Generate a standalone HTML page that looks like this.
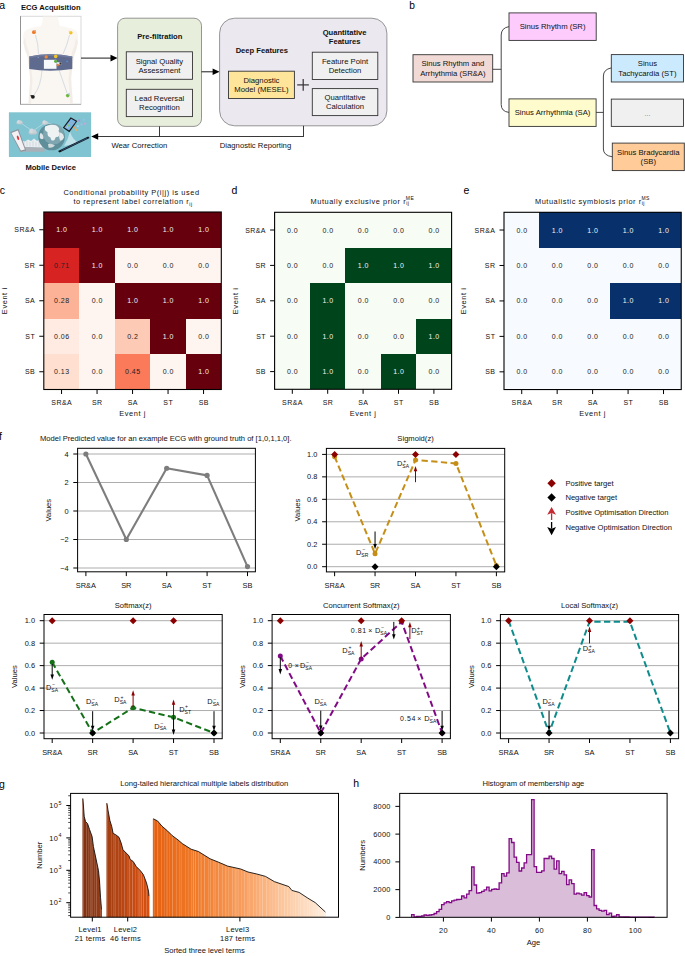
<!DOCTYPE html>
<html><head><meta charset="utf-8"><title>Figure</title>
<style>
html,body{margin:0;padding:0;background:#fff;}
body{width:685px;height:956px;overflow:hidden;position:relative;}
svg{position:absolute;left:0;top:0;font-family:"Liberation Sans", sans-serif;}
text{stroke-width:0;}
text:not([stroke]){stroke:#111;}
</style></head><body>
<svg width="685" height="956" viewBox="0 0 685 956">
<text x="-0.80" y="8.80" font-size="10.5" text-anchor="start" fill="#000" stroke="#000" stroke-width="0">a</text>
<text x="20.90" y="10.10" font-size="7.6" text-anchor="start" fill="#111" stroke="#111" font-weight="bold">ECG Acquisition</text>
<rect x="20.40" y="16.20" width="60.60" height="88.30" fill="#fff" stroke="#c8c8c8" stroke-width="0.7"/>
<line x1="20.50" y1="16.20" x2="20.50" y2="104.50" stroke="#8a8a8a" stroke-width="0.9"/>
<line x1="20.40" y1="104.30" x2="81.00" y2="104.30" stroke="#9a9a9a" stroke-width="0.7"/>
<path d="M43,16.6 L58,16.6 Q58.5,24 60,26 Q70,27.5 76,30.5 Q78.5,33 78,42 Q76.5,50 74,56 L72,70 Q70.5,78 71.5,86 Q72.5,96 72.8,104 L28.5,104 Q28.8,96 29.8,86 Q30.8,78 29.3,70 L27.5,56 Q24.5,50 23.3,42 Q22.8,33 25.3,30.5 Q31,27.5 41,26 Q42.5,24 43,16.6 Z" fill="#faf6f1" stroke="none" stroke-width="1"/>
<path d="M23.3,42 Q24.5,50 27.5,56 L29.3,70 Q30.8,78 29.8,86 Q28.8,96 28.5,104 L31,104 Q31.5,90 32.5,80 Q31,66 29,52 Q26,46 25,38 Z" fill="#f3ede7" stroke="none" stroke-width="1"/>
<path d="M78,42 Q76.5,50 74,56 L72,70 Q70.5,78 71.5,86 Q72.5,96 72.8,104 L70,104 Q69.5,90 68.5,80 Q70,66 72,52 Q75,46 76,38 Z" fill="#f3ede7" stroke="none" stroke-width="1"/>
<path d="M35.5,35 Q38.5,45 38.5,54 M69.5,35 Q67,46 63,54 M42,70 Q41,86 34,95 M59,70 Q64,84 67,93" fill="none" stroke="#a8bccf" stroke-width="0.45"/>
<path d="M29.2,56.5 Q50,52 72.3,56.5 L72.3,69 Q50,72.5 29.2,69 Z" fill="#5e6a8e" stroke="none" stroke-width="1"/>
<path d="M29.2,56.5 Q50,52 72.3,56.5 L72.3,58 Q50,54 29.2,58 Z" fill="#6f7ca0" stroke="none" stroke-width="1"/>
<rect x="43.90" y="59.80" width="12.60" height="9.00" fill="#f7f8fb" stroke="none" stroke-width="1"/>
<rect x="56.50" y="62.20" width="5.00" height="2.60" fill="#e8e8ee" stroke="none" stroke-width="1"/>
<rect x="59.50" y="62.40" width="2.00" height="2.20" fill="#333" stroke="none" stroke-width="1"/>
<circle cx="33.9" cy="32.2" r="1.9" fill="#ee7a2a" stroke="none" stroke-width="0.5"/>
<circle cx="35.2" cy="31.0" r="0.9" fill="#f0a080" stroke="none" stroke-width="0.5"/>
<circle cx="70.8" cy="32.8" r="1.8" fill="#f4c020" stroke="none" stroke-width="0.5"/>
<circle cx="69.6" cy="31.4" r="1.0" fill="#f5e09a" stroke="none" stroke-width="0.5"/>
<circle cx="46.2" cy="56.9" r="1.7" fill="#ef8a35" stroke="none" stroke-width="0.5"/>
<circle cx="55.7" cy="56.4" r="1.8" fill="#f1c22a" stroke="none" stroke-width="0.5"/>
<circle cx="55.6" cy="61.3" r="1.6" fill="#5cb040" stroke="none" stroke-width="0.5"/>
<circle cx="57.7" cy="65.0" r="1.2" fill="#e67a30" stroke="none" stroke-width="0.5"/>
<circle cx="67.1" cy="61.4" r="0.9" fill="#4a90e0" stroke="none" stroke-width="0.5"/>
<circle cx="38.2" cy="57.4" r="0.5" fill="#9cb8e0" stroke="none" stroke-width="0.5"/>
<circle cx="32.9" cy="96.8" r="1.9" fill="#1a1a1a" stroke="none" stroke-width="0.5"/>
<circle cx="31.2" cy="95.8" r="0.8" fill="#222" stroke="none" stroke-width="0.5"/>
<circle cx="67.7" cy="95.6" r="1.8" fill="#72b83e" stroke="none" stroke-width="0.5"/>
<circle cx="69.0" cy="94.0" r="0.9" fill="#a8c8e8" stroke="none" stroke-width="0.5"/>
<rect x="8.90" y="112.30" width="82.20" height="44.70" fill="#80c3d1" stroke="none" stroke-width="1"/>
<path d="M19.5,122 L32.5,131 M33,131 L45,122.5 M45,122.5 L52,124" fill="none" stroke="#dfeef2" stroke-width="0.45"/>
<ellipse cx="19.6" cy="122.8" rx="3.3" ry="1.7" fill="#bfc9cf"/>
<circle cx="18.700000000000003" cy="121.7" r="1.8" fill="#d3dbe0"/>
<circle cx="20.700000000000003" cy="122.0" r="1.4" fill="#c9d2d8"/>
<ellipse cx="32.8" cy="132.38" rx="4.29" ry="2.21" fill="#bfc9cf"/>
<circle cx="31.629999999999995" cy="130.95" r="2.3400000000000003" fill="#d3dbe0"/>
<circle cx="34.23" cy="131.34" r="1.8199999999999998" fill="#c9d2d8"/>
<ellipse cx="45.2" cy="123.19999999999999" rx="3.3" ry="1.7" fill="#bfc9cf"/>
<circle cx="44.300000000000004" cy="122.1" r="1.8" fill="#d3dbe0"/>
<circle cx="46.300000000000004" cy="122.39999999999999" r="1.4" fill="#c9d2d8"/>
<path d="M19.5,151.8 L44.5,151.8 L44.5,147.5 L22,146.5 Z" fill="#a9b0b7" stroke="none" stroke-width="1"/>
<path d="M22,146.8 L44.5,147.6 L44.5,140.5 L40,139 L37,141 L34,138.5 L31,141 L28,139.5 L25,141.5 L21,141 Z" fill="#e9eef1" stroke="none" stroke-width="1"/>
<path d="M24,146 L24,142 M27,146 L27,141 M30,146.5 L30,142 M33,146.5 L33,140.5 M36,146.5 L36,142 M39,146.8 L39,141" fill="none" stroke="#c2cbd2" stroke-width="0.6"/>
<path d="M10.2,132.2 L18.3,129.0 L26.2,150.6 L20.6,151.8 Z" fill="#8d9299" stroke="none" stroke-width="1"/>
<path d="M11.4,132.9 L17.8,130.4 L24.9,149.6 L20.9,150.4 Z" fill="#f3f1f3" stroke="none" stroke-width="1"/>
<ellipse cx="18.0" cy="137.8" rx="1.0" ry="2.3" fill="#e0383c" transform="rotate(-20 18 137.8)"/>
<circle cx="51.6" cy="137.0" r="13.3" fill="#5e8e9a"/>
<circle cx="53.5" cy="134.0" r="10.5" fill="#7ea6b0"/>
<path d="M45,126.5 Q50,123.8 56,125.2 Q60.5,128 58.5,131 Q61,134 58,137 Q55.5,136 54.5,140 Q51,142 50.5,137.5 Q47,136.5 47.5,132 Q44,131 45,126.5 Z" fill="#eef2f3" stroke="none" stroke-width="1"/>
<path d="M59.5,132.5 Q63.5,133 64,137.5 Q62.5,141 60,140.5 Q58.5,137 59.5,132.5 Z" fill="#e4eaec" stroke="none" stroke-width="1"/>
<path d="M40.5,133 Q43.5,133.5 43.5,138.5 Q41.5,140 39.8,138 Q39.2,135 40.5,133 Z" fill="#dfe6e9" stroke="none" stroke-width="1"/>
<path d="M48,144 Q52,143 55,145.5 Q52,148.5 48.5,147.5 Z" fill="#d0dadd" stroke="none" stroke-width="1"/>
<path d="M64,146 Q68,140 70,131.5 Q72,139 79,143.5 Q72,144 64,146 Z" fill="#bfe1ea" stroke="none" stroke-width="1"/>
<path d="M62.8,127.7 L70.7,117.2 L77.3,121.1 L69.4,132.3 Z" fill="#18181c" stroke="none" stroke-width="1"/>
<path d="M64.4,127.4 L71.1,118.7 L75.8,121.5 L69.1,130.6 Z" fill="#7cb4e4" stroke="none" stroke-width="1"/>
<circle cx="69.0" cy="125.6" r="1.1" fill="#8ccf5a" stroke="none" stroke-width="0.5"/>
<circle cx="71.6" cy="123.0" r="0.8" fill="#f0a040" stroke="none" stroke-width="0.5"/>
<circle cx="67.4" cy="127.0" r="0.7" fill="#f4d040" stroke="none" stroke-width="0.5"/>
<rect x="78.30" y="119.60" width="1.80" height="1.80" fill="#c080e0" stroke="none" stroke-width="1"/>
<rect x="82.90" y="118.90" width="1.80" height="1.80" fill="#8fc4f0" stroke="none" stroke-width="1"/>
<rect x="84.30" y="122.70" width="1.80" height="1.80" fill="#e59ad8" stroke="none" stroke-width="1"/>
<rect x="73.90" y="126.70" width="1.80" height="1.80" fill="#f0a050" stroke="none" stroke-width="1"/>
<rect x="77.10" y="125.30" width="1.80" height="1.80" fill="#a6d2f2" stroke="none" stroke-width="1"/>
<rect x="80.60" y="123.60" width="1.80" height="1.80" fill="#b4b4f0" stroke="none" stroke-width="1"/>
<rect x="75.30" y="128.90" width="1.80" height="1.80" fill="#f2b060" stroke="none" stroke-width="1"/>
<path d="M58.0,151.0 L88.2,136.4 L89.6,138.0 L59.6,152.6 Z" fill="#14161b" stroke="none" stroke-width="1"/>
<path d="M61.0,150.2 L86.6,137.9 L87.2,138.5 L61.6,150.8 Z" fill="#2f5a88" stroke="none" stroke-width="1"/>
<line x1="81.00" y1="58.10" x2="112.00" y2="58.10" stroke="#000" stroke-width="0.9"/>
<path d="M117.5,58.1 L110.5,54.800000000000004 L110.5,61.4 Z" fill="#000" stroke="none" stroke-width="1"/>
<rect x="117.60" y="18.20" width="83.90" height="108.20" fill="#e8eedc" stroke="#7c7c7c" stroke-width="0.8" rx="7.5"/>
<text x="159.80" y="38.80" font-size="7.6" text-anchor="middle" fill="#111" stroke="#111" font-weight="bold">Pre-filtration</text>
<rect x="126.30" y="51.80" width="66.20" height="27.50" fill="#f0f0f0" stroke="#333" stroke-width="0.9"/>
<text x="159.40" y="63.60" font-size="7.7" text-anchor="middle" fill="#111" stroke="#111">Signal Quality</text>
<text x="159.40" y="72.80" font-size="7.7" text-anchor="middle" fill="#111" stroke="#111">Assessment</text>
<rect x="126.30" y="89.30" width="66.20" height="27.30" fill="#f0f0f0" stroke="#333" stroke-width="0.9"/>
<text x="159.40" y="100.90" font-size="7.7" text-anchor="middle" fill="#111" stroke="#111">Lead Reversal</text>
<text x="159.40" y="110.10" font-size="7.7" text-anchor="middle" fill="#111" stroke="#111">Recognition</text>
<line x1="201.50" y1="71.80" x2="214.00" y2="71.80" stroke="#000" stroke-width="0.9"/>
<path d="M219.6,71.8 L212.6,68.5 L212.6,75.1 Z" fill="#000" stroke="none" stroke-width="1"/>
<rect x="219.60" y="18.20" width="167.30" height="107.60" fill="#ebe8f0" stroke="#7c7c7c" stroke-width="0.8" rx="15"/>
<text x="261.80" y="52.50" font-size="7.6" text-anchor="middle" fill="#111" stroke="#111" font-weight="bold">Deep Features</text>
<rect x="228.50" y="71.20" width="65.90" height="27.30" fill="#fee599" stroke="#333" stroke-width="0.9"/>
<text x="261.50" y="82.80" font-size="7.7" text-anchor="middle" fill="#111" stroke="#111">Diagnostic</text>
<text x="261.50" y="92.10" font-size="7.7" text-anchor="middle" fill="#111" stroke="#111">Model (MESEL)</text>
<line x1="297.20" y1="84.90" x2="308.90" y2="84.90" stroke="#333" stroke-width="1.2"/>
<line x1="303.20" y1="79.10" x2="303.20" y2="90.80" stroke="#333" stroke-width="1.2"/>
<text x="344.60" y="34.80" font-size="7.6" text-anchor="middle" fill="#111" stroke="#111" font-weight="bold">Quantitative</text>
<text x="344.60" y="44.00" font-size="7.6" text-anchor="middle" fill="#111" stroke="#111" font-weight="bold">Features</text>
<rect x="312.30" y="52.20" width="65.50" height="27.30" fill="#f0f0f0" stroke="#333" stroke-width="0.9"/>
<text x="345.00" y="64.00" font-size="7.7" text-anchor="middle" fill="#111" stroke="#111">Feature Point</text>
<text x="345.00" y="73.20" font-size="7.7" text-anchor="middle" fill="#111" stroke="#111">Detection</text>
<rect x="312.30" y="88.60" width="65.50" height="27.00" fill="#f0f0f0" stroke="#333" stroke-width="0.9"/>
<text x="345.00" y="99.90" font-size="7.7" text-anchor="middle" fill="#111" stroke="#111">Quantitative</text>
<text x="345.00" y="109.30" font-size="7.7" text-anchor="middle" fill="#111" stroke="#111">Calculation</text>
<line x1="159.50" y1="126.40" x2="159.50" y2="136.50" stroke="#222" stroke-width="0.9"/>
<line x1="303.50" y1="125.80" x2="303.50" y2="136.50" stroke="#222" stroke-width="0.9"/>
<line x1="98.00" y1="136.50" x2="303.90" y2="136.50" stroke="#222" stroke-width="0.9"/>
<path d="M91.2,136.5 L98.2,133.2 L98.2,139.8 Z" fill="#000" stroke="none" stroke-width="1"/>
<text x="139.30" y="147.80" font-size="7.7" text-anchor="middle" fill="#111" stroke="#111">Wear Correction</text>
<text x="255.50" y="147.80" font-size="7.7" text-anchor="middle" fill="#111" stroke="#111">Diagnostic Reporting</text>
<text x="25.40" y="169.70" font-size="7.6" text-anchor="start" fill="#111" stroke="#111" font-weight="bold">Mobile Device</text>
<text x="409.30" y="9.10" font-size="10.2" text-anchor="start" fill="#000" stroke="#000" stroke-width="0">b</text>
<rect x="413.00" y="54.70" width="79.70" height="27.30" fill="#f1d9d6" stroke="#333" stroke-width="0.9"/>
<text x="452.85" y="66.40" font-size="7.7" text-anchor="middle" fill="#111" stroke="#111">Sinus Rhythm and</text>
<text x="452.85" y="75.50" font-size="7.7" text-anchor="middle" fill="#111" stroke="#111">Arrhythmia (SR&amp;A)</text>
<rect x="509.00" y="12.90" width="87.20" height="27.50" fill="#fecbfd" stroke="#333" stroke-width="0.9"/>
<text x="552.60" y="29.40" font-size="7.7" text-anchor="middle" fill="#111" stroke="#111">Sinus Rhythm (SR)</text>
<rect x="509.00" y="98.90" width="87.10" height="27.50" fill="#fefccc" stroke="#333" stroke-width="0.9"/>
<text x="552.55" y="115.20" font-size="7.7" text-anchor="middle" fill="#111" stroke="#111">Sinus Arrhythmia (SA)</text>
<rect x="611.30" y="54.60" width="72.20" height="27.40" fill="#cceafd" stroke="#333" stroke-width="0.9"/>
<text x="647.40" y="66.40" font-size="7.7" text-anchor="middle" fill="#111" stroke="#111">Sinus</text>
<text x="647.40" y="75.60" font-size="7.7" text-anchor="middle" fill="#111" stroke="#111">Tachycardia (ST)</text>
<rect x="611.30" y="99.10" width="72.20" height="27.30" fill="#f0f0f0" stroke="#333" stroke-width="0.9"/>
<text x="647.50" y="116.00" font-size="7" text-anchor="middle" fill="#777" stroke="#777">...</text>
<rect x="612.30" y="143.10" width="72.00" height="27.50" fill="#fecb99" stroke="#333" stroke-width="0.9"/>
<text x="648.30" y="155.00" font-size="7.7" text-anchor="middle" fill="#111" stroke="#111">Sinus Bradycardia</text>
<text x="648.30" y="164.20" font-size="7.7" text-anchor="middle" fill="#111" stroke="#111">(SB)</text>
<path d="M492.7,69.3 L501.2,69.3" fill="none" stroke="#333" stroke-width="0.9"/>
<path d="M509,26.6 Q501.2,28 501.2,35 L501.2,104.5 Q501.2,111.5 509,112.4" fill="none" stroke="#333" stroke-width="0.9"/>
<path d="M596.1,112.4 L603.4,112.4" fill="none" stroke="#333" stroke-width="0.9"/>
<path d="M611.3,67.9 Q603.4,69.5 603.4,76 L603.4,149 Q603.4,155.5 612.3,156.8" fill="none" stroke="#333" stroke-width="0.9"/>
<rect x="43.80" y="212.00" width="35.50" height="35.50" fill="#67000d" stroke="none" stroke-width="1" shape-rendering="crispEdges"/>
<rect x="79.30" y="212.00" width="35.50" height="35.50" fill="#67000d" stroke="none" stroke-width="1" shape-rendering="crispEdges"/>
<rect x="114.80" y="212.00" width="35.50" height="35.50" fill="#67000d" stroke="none" stroke-width="1" shape-rendering="crispEdges"/>
<rect x="150.30" y="212.00" width="35.50" height="35.50" fill="#67000d" stroke="none" stroke-width="1" shape-rendering="crispEdges"/>
<rect x="185.80" y="212.00" width="35.50" height="35.50" fill="#67000d" stroke="none" stroke-width="1" shape-rendering="crispEdges"/>
<rect x="43.80" y="247.50" width="35.50" height="35.50" fill="#d72322" stroke="none" stroke-width="1" shape-rendering="crispEdges"/>
<rect x="79.30" y="247.50" width="35.50" height="35.50" fill="#67000d" stroke="none" stroke-width="1" shape-rendering="crispEdges"/>
<rect x="114.80" y="247.50" width="35.50" height="35.50" fill="#fff5f0" stroke="none" stroke-width="1" shape-rendering="crispEdges"/>
<rect x="150.30" y="247.50" width="35.50" height="35.50" fill="#fff5f0" stroke="none" stroke-width="1" shape-rendering="crispEdges"/>
<rect x="185.80" y="247.50" width="35.50" height="35.50" fill="#fff5f0" stroke="none" stroke-width="1" shape-rendering="crispEdges"/>
<rect x="43.80" y="283.00" width="35.50" height="35.50" fill="#fcb296" stroke="none" stroke-width="1" shape-rendering="crispEdges"/>
<rect x="79.30" y="283.00" width="35.50" height="35.50" fill="#fff5f0" stroke="none" stroke-width="1" shape-rendering="crispEdges"/>
<rect x="114.80" y="283.00" width="35.50" height="35.50" fill="#67000d" stroke="none" stroke-width="1" shape-rendering="crispEdges"/>
<rect x="150.30" y="283.00" width="35.50" height="35.50" fill="#67000d" stroke="none" stroke-width="1" shape-rendering="crispEdges"/>
<rect x="185.80" y="283.00" width="35.50" height="35.50" fill="#67000d" stroke="none" stroke-width="1" shape-rendering="crispEdges"/>
<rect x="43.80" y="318.50" width="35.50" height="35.50" fill="#ffebe2" stroke="none" stroke-width="1" shape-rendering="crispEdges"/>
<rect x="79.30" y="318.50" width="35.50" height="35.50" fill="#fff5f0" stroke="none" stroke-width="1" shape-rendering="crispEdges"/>
<rect x="114.80" y="318.50" width="35.50" height="35.50" fill="#fdcab5" stroke="none" stroke-width="1" shape-rendering="crispEdges"/>
<rect x="150.30" y="318.50" width="35.50" height="35.50" fill="#67000d" stroke="none" stroke-width="1" shape-rendering="crispEdges"/>
<rect x="185.80" y="318.50" width="35.50" height="35.50" fill="#fff5f0" stroke="none" stroke-width="1" shape-rendering="crispEdges"/>
<rect x="43.80" y="354.00" width="35.50" height="35.50" fill="#fedfd0" stroke="none" stroke-width="1" shape-rendering="crispEdges"/>
<rect x="79.30" y="354.00" width="35.50" height="35.50" fill="#fff5f0" stroke="none" stroke-width="1" shape-rendering="crispEdges"/>
<rect x="114.80" y="354.00" width="35.50" height="35.50" fill="#fb7a5a" stroke="none" stroke-width="1" shape-rendering="crispEdges"/>
<rect x="150.30" y="354.00" width="35.50" height="35.50" fill="#fff5f0" stroke="none" stroke-width="1" shape-rendering="crispEdges"/>
<rect x="185.80" y="354.00" width="35.50" height="35.50" fill="#67000d" stroke="none" stroke-width="1" shape-rendering="crispEdges"/>
<text x="61.80" y="232.30" font-size="7" text-anchor="middle" fill="#f2f2f2" stroke="#f2f2f2" letter-spacing="0.45">1.0</text>
<text x="97.30" y="232.30" font-size="7" text-anchor="middle" fill="#f2f2f2" stroke="#f2f2f2" letter-spacing="0.45">1.0</text>
<text x="132.80" y="232.30" font-size="7" text-anchor="middle" fill="#f2f2f2" stroke="#f2f2f2" letter-spacing="0.45">1.0</text>
<text x="168.30" y="232.30" font-size="7" text-anchor="middle" fill="#f2f2f2" stroke="#f2f2f2" letter-spacing="0.45">1.0</text>
<text x="203.80" y="232.30" font-size="7" text-anchor="middle" fill="#f2f2f2" stroke="#f2f2f2" letter-spacing="0.45">1.0</text>
<text x="61.80" y="267.80" font-size="7" text-anchor="middle" fill="#222" stroke="#222" letter-spacing="0.45">0.71</text>
<text x="97.30" y="267.80" font-size="7" text-anchor="middle" fill="#f2f2f2" stroke="#f2f2f2" letter-spacing="0.45">1.0</text>
<text x="132.80" y="267.80" font-size="7" text-anchor="middle" fill="#222" stroke="#222" letter-spacing="0.45">0.0</text>
<text x="168.30" y="267.80" font-size="7" text-anchor="middle" fill="#222" stroke="#222" letter-spacing="0.45">0.0</text>
<text x="203.80" y="267.80" font-size="7" text-anchor="middle" fill="#222" stroke="#222" letter-spacing="0.45">0.0</text>
<text x="61.80" y="303.30" font-size="7" text-anchor="middle" fill="#222" stroke="#222" letter-spacing="0.45">0.28</text>
<text x="97.30" y="303.30" font-size="7" text-anchor="middle" fill="#222" stroke="#222" letter-spacing="0.45">0.0</text>
<text x="132.80" y="303.30" font-size="7" text-anchor="middle" fill="#f2f2f2" stroke="#f2f2f2" letter-spacing="0.45">1.0</text>
<text x="168.30" y="303.30" font-size="7" text-anchor="middle" fill="#f2f2f2" stroke="#f2f2f2" letter-spacing="0.45">1.0</text>
<text x="203.80" y="303.30" font-size="7" text-anchor="middle" fill="#f2f2f2" stroke="#f2f2f2" letter-spacing="0.45">1.0</text>
<text x="61.80" y="338.80" font-size="7" text-anchor="middle" fill="#222" stroke="#222" letter-spacing="0.45">0.06</text>
<text x="97.30" y="338.80" font-size="7" text-anchor="middle" fill="#222" stroke="#222" letter-spacing="0.45">0.0</text>
<text x="132.80" y="338.80" font-size="7" text-anchor="middle" fill="#222" stroke="#222" letter-spacing="0.45">0.2</text>
<text x="168.30" y="338.80" font-size="7" text-anchor="middle" fill="#f2f2f2" stroke="#f2f2f2" letter-spacing="0.45">1.0</text>
<text x="203.80" y="338.80" font-size="7" text-anchor="middle" fill="#222" stroke="#222" letter-spacing="0.45">0.0</text>
<text x="61.80" y="374.30" font-size="7" text-anchor="middle" fill="#222" stroke="#222" letter-spacing="0.45">0.13</text>
<text x="97.30" y="374.30" font-size="7" text-anchor="middle" fill="#222" stroke="#222" letter-spacing="0.45">0.0</text>
<text x="132.80" y="374.30" font-size="7" text-anchor="middle" fill="#222" stroke="#222" letter-spacing="0.45">0.45</text>
<text x="168.30" y="374.30" font-size="7" text-anchor="middle" fill="#222" stroke="#222" letter-spacing="0.45">0.0</text>
<text x="203.80" y="374.30" font-size="7" text-anchor="middle" fill="#f2f2f2" stroke="#f2f2f2" letter-spacing="0.45">1.0</text>
<rect x="43.80" y="212.00" width="177.50" height="177.50" fill="none" stroke="#000" stroke-width="1.1"/>
<line x1="39.30" y1="229.75" x2="43.80" y2="229.75" stroke="#000" stroke-width="1.0"/>
<text x="35.20" y="232.30" font-size="7" text-anchor="end" fill="#111" stroke="#111" letter-spacing="0.45">SR&amp;A</text>
<line x1="39.30" y1="265.25" x2="43.80" y2="265.25" stroke="#000" stroke-width="1.0"/>
<text x="35.20" y="267.80" font-size="7" text-anchor="end" fill="#111" stroke="#111" letter-spacing="0.45">SR</text>
<line x1="39.30" y1="300.75" x2="43.80" y2="300.75" stroke="#000" stroke-width="1.0"/>
<text x="35.20" y="303.30" font-size="7" text-anchor="end" fill="#111" stroke="#111" letter-spacing="0.45">SA</text>
<line x1="39.30" y1="336.25" x2="43.80" y2="336.25" stroke="#000" stroke-width="1.0"/>
<text x="35.20" y="338.80" font-size="7" text-anchor="end" fill="#111" stroke="#111" letter-spacing="0.45">ST</text>
<line x1="39.30" y1="371.75" x2="43.80" y2="371.75" stroke="#000" stroke-width="1.0"/>
<text x="35.20" y="374.30" font-size="7" text-anchor="end" fill="#111" stroke="#111" letter-spacing="0.45">SB</text>
<line x1="61.55" y1="389.50" x2="61.55" y2="394.00" stroke="#000" stroke-width="1.0"/>
<text x="61.80" y="405.10" font-size="7" text-anchor="middle" fill="#111" stroke="#111" letter-spacing="0.45">SR&amp;A</text>
<line x1="97.05" y1="389.50" x2="97.05" y2="394.00" stroke="#000" stroke-width="1.0"/>
<text x="97.30" y="405.10" font-size="7" text-anchor="middle" fill="#111" stroke="#111" letter-spacing="0.45">SR</text>
<line x1="132.55" y1="389.50" x2="132.55" y2="394.00" stroke="#000" stroke-width="1.0"/>
<text x="132.80" y="405.10" font-size="7" text-anchor="middle" fill="#111" stroke="#111" letter-spacing="0.45">SA</text>
<line x1="168.05" y1="389.50" x2="168.05" y2="394.00" stroke="#000" stroke-width="1.0"/>
<text x="168.30" y="405.10" font-size="7" text-anchor="middle" fill="#111" stroke="#111" letter-spacing="0.45">ST</text>
<line x1="203.55" y1="389.50" x2="203.55" y2="394.00" stroke="#000" stroke-width="1.0"/>
<text x="203.80" y="405.10" font-size="7" text-anchor="middle" fill="#111" stroke="#111" letter-spacing="0.45">SB</text>
<text x="132.55" y="415.90" font-size="7.4" text-anchor="middle" fill="#111" stroke="#111" letter-spacing="0.6">Event j</text>
<text transform="translate(6.9,300.75) rotate(-90)" font-size="7.4" text-anchor="middle" fill="#111" letter-spacing="0.6">Event i</text>
<text x="131.5" y="195.3" font-size="7.4" text-anchor="middle" fill="#111" letter-spacing="0.55">Conditional probability P(i|j) is used</text>
<text x="131.5" y="203.7" font-size="7.4" text-anchor="middle" fill="#111" letter-spacing="0.55"><tspan dx="1.5">to represent label correlation r</tspan><tspan font-size="5" dy="1.9">ij</tspan></text>
<rect x="274.60" y="212.30" width="35.40" height="35.40" fill="#f7fcf5" stroke="none" stroke-width="1" shape-rendering="crispEdges"/>
<rect x="310.00" y="212.30" width="35.40" height="35.40" fill="#f7fcf5" stroke="none" stroke-width="1" shape-rendering="crispEdges"/>
<rect x="345.40" y="212.30" width="35.40" height="35.40" fill="#f7fcf5" stroke="none" stroke-width="1" shape-rendering="crispEdges"/>
<rect x="380.80" y="212.30" width="35.40" height="35.40" fill="#f7fcf5" stroke="none" stroke-width="1" shape-rendering="crispEdges"/>
<rect x="416.20" y="212.30" width="35.40" height="35.40" fill="#f7fcf5" stroke="none" stroke-width="1" shape-rendering="crispEdges"/>
<rect x="274.60" y="247.70" width="35.40" height="35.40" fill="#f7fcf5" stroke="none" stroke-width="1" shape-rendering="crispEdges"/>
<rect x="310.00" y="247.70" width="35.40" height="35.40" fill="#f7fcf5" stroke="none" stroke-width="1" shape-rendering="crispEdges"/>
<rect x="345.40" y="247.70" width="35.40" height="35.40" fill="#00441b" stroke="none" stroke-width="1" shape-rendering="crispEdges"/>
<rect x="380.80" y="247.70" width="35.40" height="35.40" fill="#00441b" stroke="none" stroke-width="1" shape-rendering="crispEdges"/>
<rect x="416.20" y="247.70" width="35.40" height="35.40" fill="#00441b" stroke="none" stroke-width="1" shape-rendering="crispEdges"/>
<rect x="274.60" y="283.10" width="35.40" height="35.40" fill="#f7fcf5" stroke="none" stroke-width="1" shape-rendering="crispEdges"/>
<rect x="310.00" y="283.10" width="35.40" height="35.40" fill="#00441b" stroke="none" stroke-width="1" shape-rendering="crispEdges"/>
<rect x="345.40" y="283.10" width="35.40" height="35.40" fill="#f7fcf5" stroke="none" stroke-width="1" shape-rendering="crispEdges"/>
<rect x="380.80" y="283.10" width="35.40" height="35.40" fill="#f7fcf5" stroke="none" stroke-width="1" shape-rendering="crispEdges"/>
<rect x="416.20" y="283.10" width="35.40" height="35.40" fill="#f7fcf5" stroke="none" stroke-width="1" shape-rendering="crispEdges"/>
<rect x="274.60" y="318.50" width="35.40" height="35.40" fill="#f7fcf5" stroke="none" stroke-width="1" shape-rendering="crispEdges"/>
<rect x="310.00" y="318.50" width="35.40" height="35.40" fill="#00441b" stroke="none" stroke-width="1" shape-rendering="crispEdges"/>
<rect x="345.40" y="318.50" width="35.40" height="35.40" fill="#f7fcf5" stroke="none" stroke-width="1" shape-rendering="crispEdges"/>
<rect x="380.80" y="318.50" width="35.40" height="35.40" fill="#f7fcf5" stroke="none" stroke-width="1" shape-rendering="crispEdges"/>
<rect x="416.20" y="318.50" width="35.40" height="35.40" fill="#00441b" stroke="none" stroke-width="1" shape-rendering="crispEdges"/>
<rect x="274.60" y="353.90" width="35.40" height="35.40" fill="#f7fcf5" stroke="none" stroke-width="1" shape-rendering="crispEdges"/>
<rect x="310.00" y="353.90" width="35.40" height="35.40" fill="#00441b" stroke="none" stroke-width="1" shape-rendering="crispEdges"/>
<rect x="345.40" y="353.90" width="35.40" height="35.40" fill="#f7fcf5" stroke="none" stroke-width="1" shape-rendering="crispEdges"/>
<rect x="380.80" y="353.90" width="35.40" height="35.40" fill="#00441b" stroke="none" stroke-width="1" shape-rendering="crispEdges"/>
<rect x="416.20" y="353.90" width="35.40" height="35.40" fill="#f7fcf5" stroke="none" stroke-width="1" shape-rendering="crispEdges"/>
<text x="292.55" y="232.55" font-size="7" text-anchor="middle" fill="#222" stroke="#222" letter-spacing="0.45">0.0</text>
<text x="327.95" y="232.55" font-size="7" text-anchor="middle" fill="#222" stroke="#222" letter-spacing="0.45">0.0</text>
<text x="363.35" y="232.55" font-size="7" text-anchor="middle" fill="#222" stroke="#222" letter-spacing="0.45">0.0</text>
<text x="398.75" y="232.55" font-size="7" text-anchor="middle" fill="#222" stroke="#222" letter-spacing="0.45">0.0</text>
<text x="434.15" y="232.55" font-size="7" text-anchor="middle" fill="#222" stroke="#222" letter-spacing="0.45">0.0</text>
<text x="292.55" y="267.95" font-size="7" text-anchor="middle" fill="#222" stroke="#222" letter-spacing="0.45">0.0</text>
<text x="327.95" y="267.95" font-size="7" text-anchor="middle" fill="#222" stroke="#222" letter-spacing="0.45">0.0</text>
<text x="363.35" y="267.95" font-size="7" text-anchor="middle" fill="#f2f2f2" stroke="#f2f2f2" letter-spacing="0.45">1.0</text>
<text x="398.75" y="267.95" font-size="7" text-anchor="middle" fill="#f2f2f2" stroke="#f2f2f2" letter-spacing="0.45">1.0</text>
<text x="434.15" y="267.95" font-size="7" text-anchor="middle" fill="#f2f2f2" stroke="#f2f2f2" letter-spacing="0.45">1.0</text>
<text x="292.55" y="303.35" font-size="7" text-anchor="middle" fill="#222" stroke="#222" letter-spacing="0.45">0.0</text>
<text x="327.95" y="303.35" font-size="7" text-anchor="middle" fill="#f2f2f2" stroke="#f2f2f2" letter-spacing="0.45">1.0</text>
<text x="363.35" y="303.35" font-size="7" text-anchor="middle" fill="#222" stroke="#222" letter-spacing="0.45">0.0</text>
<text x="398.75" y="303.35" font-size="7" text-anchor="middle" fill="#222" stroke="#222" letter-spacing="0.45">0.0</text>
<text x="434.15" y="303.35" font-size="7" text-anchor="middle" fill="#222" stroke="#222" letter-spacing="0.45">0.0</text>
<text x="292.55" y="338.75" font-size="7" text-anchor="middle" fill="#222" stroke="#222" letter-spacing="0.45">0.0</text>
<text x="327.95" y="338.75" font-size="7" text-anchor="middle" fill="#f2f2f2" stroke="#f2f2f2" letter-spacing="0.45">1.0</text>
<text x="363.35" y="338.75" font-size="7" text-anchor="middle" fill="#222" stroke="#222" letter-spacing="0.45">0.0</text>
<text x="398.75" y="338.75" font-size="7" text-anchor="middle" fill="#222" stroke="#222" letter-spacing="0.45">0.0</text>
<text x="434.15" y="338.75" font-size="7" text-anchor="middle" fill="#f2f2f2" stroke="#f2f2f2" letter-spacing="0.45">1.0</text>
<text x="292.55" y="374.15" font-size="7" text-anchor="middle" fill="#222" stroke="#222" letter-spacing="0.45">0.0</text>
<text x="327.95" y="374.15" font-size="7" text-anchor="middle" fill="#f2f2f2" stroke="#f2f2f2" letter-spacing="0.45">1.0</text>
<text x="363.35" y="374.15" font-size="7" text-anchor="middle" fill="#222" stroke="#222" letter-spacing="0.45">0.0</text>
<text x="398.75" y="374.15" font-size="7" text-anchor="middle" fill="#f2f2f2" stroke="#f2f2f2" letter-spacing="0.45">1.0</text>
<text x="434.15" y="374.15" font-size="7" text-anchor="middle" fill="#222" stroke="#222" letter-spacing="0.45">0.0</text>
<rect x="274.60" y="212.30" width="177.00" height="177.00" fill="none" stroke="#000" stroke-width="1.1"/>
<line x1="270.10" y1="230.00" x2="274.60" y2="230.00" stroke="#000" stroke-width="1.0"/>
<text x="266.00" y="232.55" font-size="7" text-anchor="end" fill="#111" stroke="#111" letter-spacing="0.45">SR&amp;A</text>
<line x1="270.10" y1="265.40" x2="274.60" y2="265.40" stroke="#000" stroke-width="1.0"/>
<text x="266.00" y="267.95" font-size="7" text-anchor="end" fill="#111" stroke="#111" letter-spacing="0.45">SR</text>
<line x1="270.10" y1="300.80" x2="274.60" y2="300.80" stroke="#000" stroke-width="1.0"/>
<text x="266.00" y="303.35" font-size="7" text-anchor="end" fill="#111" stroke="#111" letter-spacing="0.45">SA</text>
<line x1="270.10" y1="336.20" x2="274.60" y2="336.20" stroke="#000" stroke-width="1.0"/>
<text x="266.00" y="338.75" font-size="7" text-anchor="end" fill="#111" stroke="#111" letter-spacing="0.45">ST</text>
<line x1="270.10" y1="371.60" x2="274.60" y2="371.60" stroke="#000" stroke-width="1.0"/>
<text x="266.00" y="374.15" font-size="7" text-anchor="end" fill="#111" stroke="#111" letter-spacing="0.45">SB</text>
<line x1="292.30" y1="389.30" x2="292.30" y2="393.80" stroke="#000" stroke-width="1.0"/>
<text x="292.55" y="405.10" font-size="7" text-anchor="middle" fill="#111" stroke="#111" letter-spacing="0.45">SR&amp;A</text>
<line x1="327.70" y1="389.30" x2="327.70" y2="393.80" stroke="#000" stroke-width="1.0"/>
<text x="327.95" y="405.10" font-size="7" text-anchor="middle" fill="#111" stroke="#111" letter-spacing="0.45">SR</text>
<line x1="363.10" y1="389.30" x2="363.10" y2="393.80" stroke="#000" stroke-width="1.0"/>
<text x="363.35" y="405.10" font-size="7" text-anchor="middle" fill="#111" stroke="#111" letter-spacing="0.45">SA</text>
<line x1="398.50" y1="389.30" x2="398.50" y2="393.80" stroke="#000" stroke-width="1.0"/>
<text x="398.75" y="405.10" font-size="7" text-anchor="middle" fill="#111" stroke="#111" letter-spacing="0.45">ST</text>
<line x1="433.90" y1="389.30" x2="433.90" y2="393.80" stroke="#000" stroke-width="1.0"/>
<text x="434.15" y="405.10" font-size="7" text-anchor="middle" fill="#111" stroke="#111" letter-spacing="0.45">SB</text>
<text x="363.10" y="415.90" font-size="7.4" text-anchor="middle" fill="#111" stroke="#111" letter-spacing="0.6">Event j</text>
<text transform="translate(237.8,300.8) rotate(-90)" font-size="7.4" text-anchor="middle" fill="#111" letter-spacing="0.6">Event i</text>
<text x="362.5" y="203.8" font-size="7.4" text-anchor="middle" fill="#111" letter-spacing="0.55">Mutually exclusive prior r<tspan font-size="5" dy="1.6">ij</tspan><tspan font-size="5" dx="-3.6" dy="-5.2">ME</tspan></text>
<rect x="504.00" y="212.30" width="35.45" height="35.45" fill="#f7fbff" stroke="none" stroke-width="1" shape-rendering="crispEdges"/>
<rect x="539.45" y="212.30" width="35.45" height="35.45" fill="#08306b" stroke="none" stroke-width="1" shape-rendering="crispEdges"/>
<rect x="574.90" y="212.30" width="35.45" height="35.45" fill="#08306b" stroke="none" stroke-width="1" shape-rendering="crispEdges"/>
<rect x="610.35" y="212.30" width="35.45" height="35.45" fill="#08306b" stroke="none" stroke-width="1" shape-rendering="crispEdges"/>
<rect x="645.80" y="212.30" width="35.45" height="35.45" fill="#08306b" stroke="none" stroke-width="1" shape-rendering="crispEdges"/>
<rect x="504.00" y="247.75" width="35.45" height="35.45" fill="#f7fbff" stroke="none" stroke-width="1" shape-rendering="crispEdges"/>
<rect x="539.45" y="247.75" width="35.45" height="35.45" fill="#f7fbff" stroke="none" stroke-width="1" shape-rendering="crispEdges"/>
<rect x="574.90" y="247.75" width="35.45" height="35.45" fill="#f7fbff" stroke="none" stroke-width="1" shape-rendering="crispEdges"/>
<rect x="610.35" y="247.75" width="35.45" height="35.45" fill="#f7fbff" stroke="none" stroke-width="1" shape-rendering="crispEdges"/>
<rect x="645.80" y="247.75" width="35.45" height="35.45" fill="#f7fbff" stroke="none" stroke-width="1" shape-rendering="crispEdges"/>
<rect x="504.00" y="283.20" width="35.45" height="35.45" fill="#f7fbff" stroke="none" stroke-width="1" shape-rendering="crispEdges"/>
<rect x="539.45" y="283.20" width="35.45" height="35.45" fill="#f7fbff" stroke="none" stroke-width="1" shape-rendering="crispEdges"/>
<rect x="574.90" y="283.20" width="35.45" height="35.45" fill="#f7fbff" stroke="none" stroke-width="1" shape-rendering="crispEdges"/>
<rect x="610.35" y="283.20" width="35.45" height="35.45" fill="#08306b" stroke="none" stroke-width="1" shape-rendering="crispEdges"/>
<rect x="645.80" y="283.20" width="35.45" height="35.45" fill="#08306b" stroke="none" stroke-width="1" shape-rendering="crispEdges"/>
<rect x="504.00" y="318.65" width="35.45" height="35.45" fill="#f7fbff" stroke="none" stroke-width="1" shape-rendering="crispEdges"/>
<rect x="539.45" y="318.65" width="35.45" height="35.45" fill="#f7fbff" stroke="none" stroke-width="1" shape-rendering="crispEdges"/>
<rect x="574.90" y="318.65" width="35.45" height="35.45" fill="#f7fbff" stroke="none" stroke-width="1" shape-rendering="crispEdges"/>
<rect x="610.35" y="318.65" width="35.45" height="35.45" fill="#f7fbff" stroke="none" stroke-width="1" shape-rendering="crispEdges"/>
<rect x="645.80" y="318.65" width="35.45" height="35.45" fill="#f7fbff" stroke="none" stroke-width="1" shape-rendering="crispEdges"/>
<rect x="504.00" y="354.10" width="35.45" height="35.45" fill="#f7fbff" stroke="none" stroke-width="1" shape-rendering="crispEdges"/>
<rect x="539.45" y="354.10" width="35.45" height="35.45" fill="#f7fbff" stroke="none" stroke-width="1" shape-rendering="crispEdges"/>
<rect x="574.90" y="354.10" width="35.45" height="35.45" fill="#f7fbff" stroke="none" stroke-width="1" shape-rendering="crispEdges"/>
<rect x="610.35" y="354.10" width="35.45" height="35.45" fill="#f7fbff" stroke="none" stroke-width="1" shape-rendering="crispEdges"/>
<rect x="645.80" y="354.10" width="35.45" height="35.45" fill="#f7fbff" stroke="none" stroke-width="1" shape-rendering="crispEdges"/>
<text x="521.98" y="232.58" font-size="7" text-anchor="middle" fill="#222" stroke="#222" letter-spacing="0.45">0.0</text>
<text x="557.42" y="232.58" font-size="7" text-anchor="middle" fill="#f2f2f2" stroke="#f2f2f2" letter-spacing="0.45">1.0</text>
<text x="592.88" y="232.58" font-size="7" text-anchor="middle" fill="#f2f2f2" stroke="#f2f2f2" letter-spacing="0.45">1.0</text>
<text x="628.33" y="232.58" font-size="7" text-anchor="middle" fill="#f2f2f2" stroke="#f2f2f2" letter-spacing="0.45">1.0</text>
<text x="663.77" y="232.58" font-size="7" text-anchor="middle" fill="#f2f2f2" stroke="#f2f2f2" letter-spacing="0.45">1.0</text>
<text x="521.98" y="268.03" font-size="7" text-anchor="middle" fill="#222" stroke="#222" letter-spacing="0.45">0.0</text>
<text x="557.42" y="268.03" font-size="7" text-anchor="middle" fill="#222" stroke="#222" letter-spacing="0.45">0.0</text>
<text x="592.88" y="268.03" font-size="7" text-anchor="middle" fill="#222" stroke="#222" letter-spacing="0.45">0.0</text>
<text x="628.33" y="268.03" font-size="7" text-anchor="middle" fill="#222" stroke="#222" letter-spacing="0.45">0.0</text>
<text x="663.77" y="268.03" font-size="7" text-anchor="middle" fill="#222" stroke="#222" letter-spacing="0.45">0.0</text>
<text x="521.98" y="303.48" font-size="7" text-anchor="middle" fill="#222" stroke="#222" letter-spacing="0.45">0.0</text>
<text x="557.42" y="303.48" font-size="7" text-anchor="middle" fill="#222" stroke="#222" letter-spacing="0.45">0.0</text>
<text x="592.88" y="303.48" font-size="7" text-anchor="middle" fill="#222" stroke="#222" letter-spacing="0.45">0.0</text>
<text x="628.33" y="303.48" font-size="7" text-anchor="middle" fill="#f2f2f2" stroke="#f2f2f2" letter-spacing="0.45">1.0</text>
<text x="663.77" y="303.48" font-size="7" text-anchor="middle" fill="#f2f2f2" stroke="#f2f2f2" letter-spacing="0.45">1.0</text>
<text x="521.98" y="338.93" font-size="7" text-anchor="middle" fill="#222" stroke="#222" letter-spacing="0.45">0.0</text>
<text x="557.42" y="338.93" font-size="7" text-anchor="middle" fill="#222" stroke="#222" letter-spacing="0.45">0.0</text>
<text x="592.88" y="338.93" font-size="7" text-anchor="middle" fill="#222" stroke="#222" letter-spacing="0.45">0.0</text>
<text x="628.33" y="338.93" font-size="7" text-anchor="middle" fill="#222" stroke="#222" letter-spacing="0.45">0.0</text>
<text x="663.77" y="338.93" font-size="7" text-anchor="middle" fill="#222" stroke="#222" letter-spacing="0.45">0.0</text>
<text x="521.98" y="374.38" font-size="7" text-anchor="middle" fill="#222" stroke="#222" letter-spacing="0.45">0.0</text>
<text x="557.42" y="374.38" font-size="7" text-anchor="middle" fill="#222" stroke="#222" letter-spacing="0.45">0.0</text>
<text x="592.88" y="374.38" font-size="7" text-anchor="middle" fill="#222" stroke="#222" letter-spacing="0.45">0.0</text>
<text x="628.33" y="374.38" font-size="7" text-anchor="middle" fill="#222" stroke="#222" letter-spacing="0.45">0.0</text>
<text x="663.77" y="374.38" font-size="7" text-anchor="middle" fill="#222" stroke="#222" letter-spacing="0.45">0.0</text>
<rect x="504.00" y="212.30" width="177.25" height="177.25" fill="none" stroke="#000" stroke-width="1.1"/>
<line x1="499.50" y1="230.03" x2="504.00" y2="230.03" stroke="#000" stroke-width="1.0"/>
<text x="495.40" y="232.58" font-size="7" text-anchor="end" fill="#111" stroke="#111" letter-spacing="0.45">SR&amp;A</text>
<line x1="499.50" y1="265.48" x2="504.00" y2="265.48" stroke="#000" stroke-width="1.0"/>
<text x="495.40" y="268.03" font-size="7" text-anchor="end" fill="#111" stroke="#111" letter-spacing="0.45">SR</text>
<line x1="499.50" y1="300.93" x2="504.00" y2="300.93" stroke="#000" stroke-width="1.0"/>
<text x="495.40" y="303.48" font-size="7" text-anchor="end" fill="#111" stroke="#111" letter-spacing="0.45">SA</text>
<line x1="499.50" y1="336.38" x2="504.00" y2="336.38" stroke="#000" stroke-width="1.0"/>
<text x="495.40" y="338.93" font-size="7" text-anchor="end" fill="#111" stroke="#111" letter-spacing="0.45">ST</text>
<line x1="499.50" y1="371.83" x2="504.00" y2="371.83" stroke="#000" stroke-width="1.0"/>
<text x="495.40" y="374.38" font-size="7" text-anchor="end" fill="#111" stroke="#111" letter-spacing="0.45">SB</text>
<line x1="521.73" y1="389.55" x2="521.73" y2="394.05" stroke="#000" stroke-width="1.0"/>
<text x="521.98" y="405.10" font-size="7" text-anchor="middle" fill="#111" stroke="#111" letter-spacing="0.45">SR&amp;A</text>
<line x1="557.17" y1="389.55" x2="557.17" y2="394.05" stroke="#000" stroke-width="1.0"/>
<text x="557.42" y="405.10" font-size="7" text-anchor="middle" fill="#111" stroke="#111" letter-spacing="0.45">SR</text>
<line x1="592.62" y1="389.55" x2="592.62" y2="394.05" stroke="#000" stroke-width="1.0"/>
<text x="592.88" y="405.10" font-size="7" text-anchor="middle" fill="#111" stroke="#111" letter-spacing="0.45">SA</text>
<line x1="628.08" y1="389.55" x2="628.08" y2="394.05" stroke="#000" stroke-width="1.0"/>
<text x="628.33" y="405.10" font-size="7" text-anchor="middle" fill="#111" stroke="#111" letter-spacing="0.45">ST</text>
<line x1="663.52" y1="389.55" x2="663.52" y2="394.05" stroke="#000" stroke-width="1.0"/>
<text x="663.77" y="405.10" font-size="7" text-anchor="middle" fill="#111" stroke="#111" letter-spacing="0.45">SB</text>
<text x="592.62" y="415.90" font-size="7.4" text-anchor="middle" fill="#111" stroke="#111" letter-spacing="0.6">Event j</text>
<text transform="translate(466.4,300.925) rotate(-90)" font-size="7.4" text-anchor="middle" fill="#111" letter-spacing="0.6">Event i</text>
<text x="592.5" y="203.8" font-size="7.4" text-anchor="middle" fill="#111" letter-spacing="0.55">Mutualistic symbiosis prior r<tspan font-size="5" dy="1.6">ij</tspan><tspan font-size="5" dx="-3.6" dy="-5.2">MS</tspan></text>
<text x="-0.30" y="193.70" font-size="10.5" text-anchor="start" fill="#000" stroke="#000" stroke-width="0">c</text>
<text x="231.50" y="193.70" font-size="10.5" text-anchor="start" fill="#000" stroke="#000" stroke-width="0">d</text>
<text x="463.50" y="193.70" font-size="10.5" text-anchor="start" fill="#000" stroke="#000" stroke-width="0">e</text>
<text x="-0.90" y="439.70" font-size="10.5" text-anchor="start" fill="#000" stroke="#000" stroke-width="0">f</text>
<line x1="77.60" y1="454.00" x2="255.40" y2="454.00" stroke="#adadad" stroke-width="1.0"/>
<line x1="77.60" y1="482.50" x2="255.40" y2="482.50" stroke="#adadad" stroke-width="1.0"/>
<line x1="77.60" y1="511.00" x2="255.40" y2="511.00" stroke="#adadad" stroke-width="1.0"/>
<line x1="77.60" y1="539.50" x2="255.40" y2="539.50" stroke="#adadad" stroke-width="1.0"/>
<line x1="77.60" y1="568.00" x2="255.40" y2="568.00" stroke="#adadad" stroke-width="1.0"/>
<path d="M85.90,454.00 L126.30,539.50 L166.70,468.25 L207.10,475.38 L247.50,566.58" fill="none" stroke="#7d7d7d" stroke-width="2.1" stroke-linejoin="round"/>
<circle cx="85.90" cy="454.00" r="2.6" fill="#7d7d7d"/>
<circle cx="126.30" cy="539.50" r="2.6" fill="#7d7d7d"/>
<circle cx="166.70" cy="468.25" r="2.6" fill="#7d7d7d"/>
<circle cx="207.10" cy="475.38" r="2.6" fill="#7d7d7d"/>
<circle cx="247.50" cy="566.58" r="2.6" fill="#7d7d7d"/>
<rect x="77.60" y="448.30" width="177.80" height="123.50" fill="none" stroke="#000" stroke-width="1.0"/>
<line x1="73.30" y1="454.00" x2="77.60" y2="454.00" stroke="#000" stroke-width="1.0"/>
<text x="68.60" y="456.50" font-size="7.4" text-anchor="end" fill="#111" stroke="#111">4</text>
<line x1="73.30" y1="482.50" x2="77.60" y2="482.50" stroke="#000" stroke-width="1.0"/>
<text x="68.60" y="485.00" font-size="7.4" text-anchor="end" fill="#111" stroke="#111">2</text>
<line x1="73.30" y1="511.00" x2="77.60" y2="511.00" stroke="#000" stroke-width="1.0"/>
<text x="68.60" y="513.50" font-size="7.4" text-anchor="end" fill="#111" stroke="#111">0</text>
<line x1="73.30" y1="539.50" x2="77.60" y2="539.50" stroke="#000" stroke-width="1.0"/>
<text x="68.60" y="542.00" font-size="7.4" text-anchor="end" fill="#111" stroke="#111">−2</text>
<line x1="73.30" y1="568.00" x2="77.60" y2="568.00" stroke="#000" stroke-width="1.0"/>
<text x="68.60" y="570.50" font-size="7.4" text-anchor="end" fill="#111" stroke="#111">−4</text>
<line x1="85.90" y1="571.80" x2="85.90" y2="576.10" stroke="#000" stroke-width="1.0"/>
<text x="85.90" y="588.10" font-size="7.4" text-anchor="middle" fill="#111" stroke="#111">SR&amp;A</text>
<line x1="126.30" y1="571.80" x2="126.30" y2="576.10" stroke="#000" stroke-width="1.0"/>
<text x="126.30" y="588.10" font-size="7.4" text-anchor="middle" fill="#111" stroke="#111">SR</text>
<line x1="166.70" y1="571.80" x2="166.70" y2="576.10" stroke="#000" stroke-width="1.0"/>
<text x="166.70" y="588.10" font-size="7.4" text-anchor="middle" fill="#111" stroke="#111">SA</text>
<line x1="207.10" y1="571.80" x2="207.10" y2="576.10" stroke="#000" stroke-width="1.0"/>
<text x="207.10" y="588.10" font-size="7.4" text-anchor="middle" fill="#111" stroke="#111">ST</text>
<line x1="247.50" y1="571.80" x2="247.50" y2="576.10" stroke="#000" stroke-width="1.0"/>
<text x="247.50" y="588.10" font-size="7.4" text-anchor="middle" fill="#111" stroke="#111">SB</text>
<text transform="translate(51.0,510.2) rotate(-90)" font-size="7.6" text-anchor="middle" fill="#111">Values</text>
<text x="39.90" y="440.80" font-size="7.62" text-anchor="start" fill="#111" stroke="#111">Model Predicted value for an example ECG with ground truth of [1,0,1,1,0].</text>
<line x1="326.40" y1="566.70" x2="504.70" y2="566.70" stroke="#adadad" stroke-width="1.0"/>
<line x1="326.40" y1="544.24" x2="504.70" y2="544.24" stroke="#adadad" stroke-width="1.0"/>
<line x1="326.40" y1="521.78" x2="504.70" y2="521.78" stroke="#adadad" stroke-width="1.0"/>
<line x1="326.40" y1="499.32" x2="504.70" y2="499.32" stroke="#adadad" stroke-width="1.0"/>
<line x1="326.40" y1="476.86" x2="504.70" y2="476.86" stroke="#adadad" stroke-width="1.0"/>
<line x1="326.40" y1="454.40" x2="504.70" y2="454.40" stroke="#adadad" stroke-width="1.0"/>
<text transform="translate(299.50,510.15) rotate(-90)" font-size="7.6" text-anchor="middle" fill="#111">Values</text>
<text x="415.55" y="440.80" font-size="7.62" text-anchor="middle" fill="#111" stroke="#111">Sigmoid(z)</text>
<path d="M334.60,456.65 L375.05,553.79 L415.50,460.02 L455.95,463.38 L496.40,565.58" fill="none" stroke="#c58e16" stroke-width="2.0" stroke-dasharray="6.3 3.4" stroke-linejoin="round"/>
<circle cx="334.60" cy="456.65" r="2.5" fill="#c58e16"/>
<circle cx="375.05" cy="553.79" r="2.5" fill="#c58e16"/>
<circle cx="415.50" cy="460.02" r="2.5" fill="#c58e16"/>
<circle cx="455.95" cy="463.38" r="2.5" fill="#c58e16"/>
<circle cx="496.40" cy="565.58" r="2.5" fill="#c58e16"/>
<path d="M334.60,450.90 L338.10,454.40 L334.60,457.90 L331.10,454.40 Z" fill="#8b0000" stroke="none" stroke-width="1"/>
<path d="M375.05,563.20 L378.55,566.70 L375.05,570.20 L371.55,566.70 Z" fill="#000" stroke="none" stroke-width="1"/>
<path d="M415.50,450.90 L419.00,454.40 L415.50,457.90 L412.00,454.40 Z" fill="#8b0000" stroke="none" stroke-width="1"/>
<path d="M455.95,450.90 L459.45,454.40 L455.95,457.90 L452.45,454.40 Z" fill="#8b0000" stroke="none" stroke-width="1"/>
<path d="M496.40,563.20 L499.90,566.70 L496.40,570.20 L492.90,566.70 Z" fill="#000" stroke="none" stroke-width="1"/>
<line x1="375.05" y1="531.50" x2="375.05" y2="544.96" stroke="#000" stroke-width="1.0"/>
<path d="M375.05,549.20 L373.30,543.90 L375.05,543.90 L376.80,543.90 Z" fill="#000" stroke="none" stroke-width="1"/>
<line x1="415.50" y1="482.20" x2="415.50" y2="470.14" stroke="#8b0000" stroke-width="1.0"/>
<path d="M415.50,465.90 L413.75,471.20 L415.50,471.20 L417.25,471.20 Z" fill="#8b0000" stroke="none" stroke-width="1"/>
<text x="356.00" y="554.95" font-size="7.4" fill="#111">D<tspan font-size="5.0" dy="1.8" letter-spacing="0.1">SR</tspan><tspan font-size="5.0" dx="-6.09" dy="-5.4">−</tspan></text>
<text x="397.00" y="466.15" font-size="7.4" fill="#111">D<tspan font-size="5.0" dy="1.8" letter-spacing="0.1">SA</tspan><tspan font-size="5.0" dx="-6.09" dy="-5.4">+</tspan></text>
<rect x="326.40" y="448.40" width="178.30" height="123.50" fill="none" stroke="#000" stroke-width="1.0"/>
<line x1="322.10" y1="566.70" x2="326.40" y2="566.70" stroke="#000" stroke-width="1.0"/>
<text x="317.40" y="569.20" font-size="7.4" text-anchor="end" fill="#111" stroke="#111">0.0</text>
<line x1="322.10" y1="544.24" x2="326.40" y2="544.24" stroke="#000" stroke-width="1.0"/>
<text x="317.40" y="546.74" font-size="7.4" text-anchor="end" fill="#111" stroke="#111">0.2</text>
<line x1="322.10" y1="521.78" x2="326.40" y2="521.78" stroke="#000" stroke-width="1.0"/>
<text x="317.40" y="524.28" font-size="7.4" text-anchor="end" fill="#111" stroke="#111">0.4</text>
<line x1="322.10" y1="499.32" x2="326.40" y2="499.32" stroke="#000" stroke-width="1.0"/>
<text x="317.40" y="501.82" font-size="7.4" text-anchor="end" fill="#111" stroke="#111">0.6</text>
<line x1="322.10" y1="476.86" x2="326.40" y2="476.86" stroke="#000" stroke-width="1.0"/>
<text x="317.40" y="479.36" font-size="7.4" text-anchor="end" fill="#111" stroke="#111">0.8</text>
<line x1="322.10" y1="454.40" x2="326.40" y2="454.40" stroke="#000" stroke-width="1.0"/>
<text x="317.40" y="456.90" font-size="7.4" text-anchor="end" fill="#111" stroke="#111">1.0</text>
<line x1="334.60" y1="571.90" x2="334.60" y2="576.20" stroke="#000" stroke-width="1.0"/>
<text x="334.60" y="588.20" font-size="7.4" text-anchor="middle" fill="#111" stroke="#111">SR&amp;A</text>
<line x1="375.05" y1="571.90" x2="375.05" y2="576.20" stroke="#000" stroke-width="1.0"/>
<text x="375.05" y="588.20" font-size="7.4" text-anchor="middle" fill="#111" stroke="#111">SR</text>
<line x1="415.50" y1="571.90" x2="415.50" y2="576.20" stroke="#000" stroke-width="1.0"/>
<text x="415.50" y="588.20" font-size="7.4" text-anchor="middle" fill="#111" stroke="#111">SA</text>
<line x1="455.95" y1="571.90" x2="455.95" y2="576.20" stroke="#000" stroke-width="1.0"/>
<text x="455.95" y="588.20" font-size="7.4" text-anchor="middle" fill="#111" stroke="#111">ST</text>
<line x1="496.40" y1="571.90" x2="496.40" y2="576.20" stroke="#000" stroke-width="1.0"/>
<text x="496.40" y="588.20" font-size="7.4" text-anchor="middle" fill="#111" stroke="#111">SB</text>
<path d="M551.60,479.10 L555.80,483.30 L551.60,487.50 L547.40,483.30 Z" fill="#8b0000" stroke="none" stroke-width="1"/>
<path d="M551.60,493.30 L555.80,497.50 L551.60,501.70 L547.40,497.50 Z" fill="#000" stroke="none" stroke-width="1"/>
<line x1="551.60" y1="520.00" x2="551.60" y2="513.24" stroke="#c62a34" stroke-width="1.3"/>
<path d="M551.60,507.00 L547.20,514.80 L551.60,513.00 L556.00,514.80 Z" fill="#c62a34" stroke="none" stroke-width="1"/>
<line x1="551.60" y1="522.00" x2="551.60" y2="528.64" stroke="#000" stroke-width="1.3"/>
<path d="M551.60,535.20 L547.20,527.00 L551.60,528.80 L556.00,527.00 Z" fill="#000" stroke="none" stroke-width="1"/>
<text x="565.40" y="486.00" font-size="7.62" text-anchor="start" fill="#111" stroke="#111">Positive target</text>
<text x="565.40" y="500.20" font-size="7.62" text-anchor="start" fill="#111" stroke="#111">Negative target</text>
<text x="565.40" y="515.30" font-size="7.62" text-anchor="start" fill="#111" stroke="#111">Positive Optimisation Direction</text>
<text x="565.40" y="530.30" font-size="7.62" text-anchor="start" fill="#111" stroke="#111">Negative Optimisation Direction</text>
<line x1="44.00" y1="733.00" x2="222.20" y2="733.00" stroke="#adadad" stroke-width="1.0"/>
<line x1="44.00" y1="710.54" x2="222.20" y2="710.54" stroke="#adadad" stroke-width="1.0"/>
<line x1="44.00" y1="688.08" x2="222.20" y2="688.08" stroke="#adadad" stroke-width="1.0"/>
<line x1="44.00" y1="665.62" x2="222.20" y2="665.62" stroke="#adadad" stroke-width="1.0"/>
<line x1="44.00" y1="643.16" x2="222.20" y2="643.16" stroke="#adadad" stroke-width="1.0"/>
<line x1="44.00" y1="620.70" x2="222.20" y2="620.70" stroke="#adadad" stroke-width="1.0"/>
<text transform="translate(17.10,676.60) rotate(-90)" font-size="7.6" text-anchor="middle" fill="#111">Values</text>
<text x="133.10" y="607.60" font-size="7.62" text-anchor="middle" fill="#111" stroke="#111">Softmax(z)</text>
<path d="M52.20,662.25 L92.65,733.00 L133.10,707.73 L173.55,717.28 L214.00,733.00" fill="none" stroke="#16701a" stroke-width="2.0" stroke-dasharray="6.3 3.4" stroke-linejoin="round"/>
<circle cx="52.20" cy="662.25" r="2.5" fill="#16701a"/>
<circle cx="92.65" cy="733.00" r="2.5" fill="#16701a"/>
<circle cx="133.10" cy="707.73" r="2.5" fill="#16701a"/>
<circle cx="173.55" cy="717.28" r="2.5" fill="#16701a"/>
<circle cx="214.00" cy="733.00" r="2.5" fill="#16701a"/>
<path d="M52.20,617.20 L55.70,620.70 L52.20,624.20 L48.70,620.70 Z" fill="#8b0000" stroke="none" stroke-width="1"/>
<path d="M92.65,729.50 L96.15,733.00 L92.65,736.50 L89.15,733.00 Z" fill="#000" stroke="none" stroke-width="1"/>
<path d="M133.10,617.20 L136.60,620.70 L133.10,624.20 L129.60,620.70 Z" fill="#8b0000" stroke="none" stroke-width="1"/>
<path d="M173.55,617.20 L177.05,620.70 L173.55,624.20 L170.05,620.70 Z" fill="#8b0000" stroke="none" stroke-width="1"/>
<path d="M214.00,729.50 L217.50,733.00 L214.00,736.50 L210.50,733.00 Z" fill="#000" stroke="none" stroke-width="1"/>
<line x1="52.20" y1="664.00" x2="52.20" y2="675.46" stroke="#000" stroke-width="1.0"/>
<path d="M52.20,679.70 L50.45,674.40 L52.20,674.40 L53.95,674.40 Z" fill="#000" stroke="none" stroke-width="1"/>
<line x1="92.65" y1="711.20" x2="92.65" y2="726.76" stroke="#000" stroke-width="1.0"/>
<path d="M92.65,731.00 L90.90,725.70 L92.65,725.70 L94.40,725.70 Z" fill="#000" stroke="none" stroke-width="1"/>
<line x1="133.10" y1="707.30" x2="133.10" y2="694.44" stroke="#8b0000" stroke-width="1.0"/>
<path d="M133.10,690.20 L131.35,695.50 L133.10,695.50 L134.85,695.50 Z" fill="#8b0000" stroke="none" stroke-width="1"/>
<line x1="173.55" y1="717.50" x2="173.55" y2="703.64" stroke="#8b0000" stroke-width="1.0"/>
<path d="M173.55,699.40 L171.80,704.70 L173.55,704.70 L175.30,704.70 Z" fill="#8b0000" stroke="none" stroke-width="1"/>
<line x1="173.55" y1="717.50" x2="173.55" y2="730.66" stroke="#000" stroke-width="1.0"/>
<path d="M173.55,734.90 L171.80,729.60 L173.55,729.60 L175.30,729.60 Z" fill="#000" stroke="none" stroke-width="1"/>
<line x1="214.00" y1="711.20" x2="214.00" y2="726.76" stroke="#000" stroke-width="1.0"/>
<path d="M214.00,731.00 L212.25,725.70 L214.00,725.70 L215.75,725.70 Z" fill="#000" stroke="none" stroke-width="1"/>
<text x="46.00" y="689.75" font-size="7.4" fill="#111">D<tspan font-size="5.0" dy="1.8" letter-spacing="0.1">SA</tspan><tspan font-size="5.0" dx="-6.09" dy="-5.4">−</tspan></text>
<text x="86.00" y="704.15" font-size="7.4" fill="#111">D<tspan font-size="5.0" dy="1.8" letter-spacing="0.1">SA</tspan><tspan font-size="5.0" dx="-6.09" dy="-5.4">−</tspan></text>
<text x="114.30" y="702.35" font-size="7.4" fill="#111">D<tspan font-size="5.0" dy="1.8" letter-spacing="0.1">SA</tspan><tspan font-size="5.0" dx="-6.09" dy="-5.4">+</tspan></text>
<text x="179.20" y="712.05" font-size="7.4" fill="#111">D<tspan font-size="5.0" dy="1.8" letter-spacing="0.1">ST</tspan><tspan font-size="5.0" dx="-6.09" dy="-5.4">+</tspan></text>
<text x="154.30" y="728.65" font-size="7.4" fill="#111">D<tspan font-size="5.0" dy="1.8" letter-spacing="0.1">SA</tspan><tspan font-size="5.0" dx="-6.09" dy="-5.4">−</tspan></text>
<text x="207.30" y="704.15" font-size="7.4" fill="#111">D<tspan font-size="5.0" dy="1.8" letter-spacing="0.1">SA</tspan><tspan font-size="5.0" dx="-6.09" dy="-5.4">−</tspan></text>
<rect x="44.00" y="614.50" width="178.20" height="124.20" fill="none" stroke="#000" stroke-width="1.0"/>
<line x1="39.70" y1="733.00" x2="44.00" y2="733.00" stroke="#000" stroke-width="1.0"/>
<text x="35.00" y="735.50" font-size="7.4" text-anchor="end" fill="#111" stroke="#111">0.0</text>
<line x1="39.70" y1="710.54" x2="44.00" y2="710.54" stroke="#000" stroke-width="1.0"/>
<text x="35.00" y="713.04" font-size="7.4" text-anchor="end" fill="#111" stroke="#111">0.2</text>
<line x1="39.70" y1="688.08" x2="44.00" y2="688.08" stroke="#000" stroke-width="1.0"/>
<text x="35.00" y="690.58" font-size="7.4" text-anchor="end" fill="#111" stroke="#111">0.4</text>
<line x1="39.70" y1="665.62" x2="44.00" y2="665.62" stroke="#000" stroke-width="1.0"/>
<text x="35.00" y="668.12" font-size="7.4" text-anchor="end" fill="#111" stroke="#111">0.6</text>
<line x1="39.70" y1="643.16" x2="44.00" y2="643.16" stroke="#000" stroke-width="1.0"/>
<text x="35.00" y="645.66" font-size="7.4" text-anchor="end" fill="#111" stroke="#111">0.8</text>
<line x1="39.70" y1="620.70" x2="44.00" y2="620.70" stroke="#000" stroke-width="1.0"/>
<text x="35.00" y="623.20" font-size="7.4" text-anchor="end" fill="#111" stroke="#111">1.0</text>
<line x1="52.20" y1="738.70" x2="52.20" y2="743.00" stroke="#000" stroke-width="1.0"/>
<text x="52.20" y="755.00" font-size="7.4" text-anchor="middle" fill="#111" stroke="#111">SR&amp;A</text>
<line x1="92.65" y1="738.70" x2="92.65" y2="743.00" stroke="#000" stroke-width="1.0"/>
<text x="92.65" y="755.00" font-size="7.4" text-anchor="middle" fill="#111" stroke="#111">SR</text>
<line x1="133.10" y1="738.70" x2="133.10" y2="743.00" stroke="#000" stroke-width="1.0"/>
<text x="133.10" y="755.00" font-size="7.4" text-anchor="middle" fill="#111" stroke="#111">SA</text>
<line x1="173.55" y1="738.70" x2="173.55" y2="743.00" stroke="#000" stroke-width="1.0"/>
<text x="173.55" y="755.00" font-size="7.4" text-anchor="middle" fill="#111" stroke="#111">ST</text>
<line x1="214.00" y1="738.70" x2="214.00" y2="743.00" stroke="#000" stroke-width="1.0"/>
<text x="214.00" y="755.00" font-size="7.4" text-anchor="middle" fill="#111" stroke="#111">SB</text>
<line x1="272.10" y1="733.00" x2="450.40" y2="733.00" stroke="#adadad" stroke-width="1.0"/>
<line x1="272.10" y1="710.54" x2="450.40" y2="710.54" stroke="#adadad" stroke-width="1.0"/>
<line x1="272.10" y1="688.08" x2="450.40" y2="688.08" stroke="#adadad" stroke-width="1.0"/>
<line x1="272.10" y1="665.62" x2="450.40" y2="665.62" stroke="#adadad" stroke-width="1.0"/>
<line x1="272.10" y1="643.16" x2="450.40" y2="643.16" stroke="#adadad" stroke-width="1.0"/>
<line x1="272.10" y1="620.70" x2="450.40" y2="620.70" stroke="#adadad" stroke-width="1.0"/>
<text transform="translate(245.20,676.60) rotate(-90)" font-size="7.6" text-anchor="middle" fill="#111">Values</text>
<text x="361.25" y="607.60" font-size="7.62" text-anchor="middle" fill="#111" stroke="#111">Concurrent Softmax(z)</text>
<path d="M280.30,655.96 L320.75,733.00 L361.20,658.88 L401.65,621.82 L442.10,733.00" fill="none" stroke="#820a86" stroke-width="2.0" stroke-dasharray="6.3 3.4" stroke-linejoin="round"/>
<circle cx="280.30" cy="655.96" r="2.5" fill="#820a86"/>
<circle cx="320.75" cy="733.00" r="2.5" fill="#820a86"/>
<circle cx="361.20" cy="658.88" r="2.5" fill="#820a86"/>
<circle cx="401.65" cy="621.82" r="2.5" fill="#820a86"/>
<circle cx="442.10" cy="733.00" r="2.5" fill="#820a86"/>
<path d="M280.30,617.20 L283.80,620.70 L280.30,624.20 L276.80,620.70 Z" fill="#8b0000" stroke="none" stroke-width="1"/>
<path d="M320.75,729.50 L324.25,733.00 L320.75,736.50 L317.25,733.00 Z" fill="#000" stroke="none" stroke-width="1"/>
<path d="M361.20,617.20 L364.70,620.70 L361.20,624.20 L357.70,620.70 Z" fill="#8b0000" stroke="none" stroke-width="1"/>
<path d="M401.65,617.20 L405.15,620.70 L401.65,624.20 L398.15,620.70 Z" fill="#8b0000" stroke="none" stroke-width="1"/>
<path d="M442.10,729.50 L445.60,733.00 L442.10,736.50 L438.60,733.00 Z" fill="#000" stroke="none" stroke-width="1"/>
<line x1="280.30" y1="657.40" x2="280.30" y2="670.16" stroke="#000" stroke-width="1.0"/>
<path d="M280.30,674.40 L278.55,669.10 L280.30,669.10 L282.05,669.10 Z" fill="#000" stroke="none" stroke-width="1"/>
<line x1="361.20" y1="658.70" x2="361.20" y2="645.34" stroke="#8b0000" stroke-width="1.0"/>
<path d="M361.20,641.10 L359.45,646.40 L361.20,646.40 L362.95,646.40 Z" fill="#8b0000" stroke="none" stroke-width="1"/>
<line x1="393.80" y1="621.90" x2="393.80" y2="635.36" stroke="#000" stroke-width="1.0"/>
<path d="M393.80,639.60 L392.05,634.30 L393.80,634.30 L395.55,634.30 Z" fill="#000" stroke="none" stroke-width="1"/>
<line x1="409.90" y1="639.00" x2="409.90" y2="626.14" stroke="#8b0000" stroke-width="1.0"/>
<path d="M409.90,621.90 L408.15,627.20 L409.90,627.20 L411.65,627.20 Z" fill="#8b0000" stroke="none" stroke-width="1"/>
<line x1="320.75" y1="710.70" x2="320.75" y2="726.66" stroke="#000" stroke-width="1.0"/>
<path d="M320.75,730.90 L319.00,725.60 L320.75,725.60 L322.50,725.60 Z" fill="#000" stroke="none" stroke-width="1"/>
<line x1="442.10" y1="711.00" x2="442.10" y2="726.76" stroke="#000" stroke-width="1.0"/>
<path d="M442.10,731.00 L440.35,725.70 L442.10,725.70 L443.85,725.70 Z" fill="#000" stroke="none" stroke-width="1"/>
<text x="288.30" y="667.95" font-size="7" fill="#111" letter-spacing="0.55">0</text>
<text x="296.70" y="667.70" font-size="7" fill="#111" text-anchor="middle">×</text>
<text x="300.00" y="667.95" font-size="7.4" fill="#111">D<tspan font-size="5.0" dy="1.8" letter-spacing="0.1">SA</tspan><tspan font-size="5.0" dx="-6.09" dy="-5.4">−</tspan></text>
<text x="342.30" y="652.95" font-size="7.4" fill="#111">D<tspan font-size="5.0" dy="1.8" letter-spacing="0.1">SA</tspan><tspan font-size="5.0" dx="-6.09" dy="-5.4">+</tspan></text>
<text x="350.80" y="632.75" font-size="7" fill="#111" letter-spacing="0.55">0.81</text>
<text x="370.20" y="632.50" font-size="7" fill="#111" text-anchor="middle">×</text>
<text x="375.00" y="632.75" font-size="7.4" fill="#111">D<tspan font-size="5.0" dy="1.8" letter-spacing="0.1">SA</tspan><tspan font-size="5.0" dx="-6.09" dy="-5.4">−</tspan></text>
<text x="411.20" y="633.25" font-size="7.4" fill="#111">D<tspan font-size="5.0" dy="1.8" letter-spacing="0.1">ST</tspan><tspan font-size="5.0" dx="-6.09" dy="-5.4">+</tspan></text>
<text x="314.50" y="704.15" font-size="7.4" fill="#111">D<tspan font-size="5.0" dy="1.8" letter-spacing="0.1">SA</tspan><tspan font-size="5.0" dx="-6.09" dy="-5.4">−</tspan></text>
<text x="400.00" y="721.25" font-size="7" fill="#111" letter-spacing="0.55">0.54</text>
<text x="419.40" y="721.00" font-size="7" fill="#111" text-anchor="middle">×</text>
<text x="424.20" y="721.25" font-size="7.4" fill="#111">D<tspan font-size="5.0" dy="1.8" letter-spacing="0.1">SA</tspan><tspan font-size="5.0" dx="-6.09" dy="-5.4">−</tspan></text>
<rect x="272.10" y="614.50" width="178.30" height="124.20" fill="none" stroke="#000" stroke-width="1.0"/>
<line x1="267.80" y1="733.00" x2="272.10" y2="733.00" stroke="#000" stroke-width="1.0"/>
<text x="263.10" y="735.50" font-size="7.4" text-anchor="end" fill="#111" stroke="#111">0.0</text>
<line x1="267.80" y1="710.54" x2="272.10" y2="710.54" stroke="#000" stroke-width="1.0"/>
<text x="263.10" y="713.04" font-size="7.4" text-anchor="end" fill="#111" stroke="#111">0.2</text>
<line x1="267.80" y1="688.08" x2="272.10" y2="688.08" stroke="#000" stroke-width="1.0"/>
<text x="263.10" y="690.58" font-size="7.4" text-anchor="end" fill="#111" stroke="#111">0.4</text>
<line x1="267.80" y1="665.62" x2="272.10" y2="665.62" stroke="#000" stroke-width="1.0"/>
<text x="263.10" y="668.12" font-size="7.4" text-anchor="end" fill="#111" stroke="#111">0.6</text>
<line x1="267.80" y1="643.16" x2="272.10" y2="643.16" stroke="#000" stroke-width="1.0"/>
<text x="263.10" y="645.66" font-size="7.4" text-anchor="end" fill="#111" stroke="#111">0.8</text>
<line x1="267.80" y1="620.70" x2="272.10" y2="620.70" stroke="#000" stroke-width="1.0"/>
<text x="263.10" y="623.20" font-size="7.4" text-anchor="end" fill="#111" stroke="#111">1.0</text>
<line x1="280.30" y1="738.70" x2="280.30" y2="743.00" stroke="#000" stroke-width="1.0"/>
<text x="280.30" y="755.00" font-size="7.4" text-anchor="middle" fill="#111" stroke="#111">SR&amp;A</text>
<line x1="320.75" y1="738.70" x2="320.75" y2="743.00" stroke="#000" stroke-width="1.0"/>
<text x="320.75" y="755.00" font-size="7.4" text-anchor="middle" fill="#111" stroke="#111">SR</text>
<line x1="361.20" y1="738.70" x2="361.20" y2="743.00" stroke="#000" stroke-width="1.0"/>
<text x="361.20" y="755.00" font-size="7.4" text-anchor="middle" fill="#111" stroke="#111">SA</text>
<line x1="401.65" y1="738.70" x2="401.65" y2="743.00" stroke="#000" stroke-width="1.0"/>
<text x="401.65" y="755.00" font-size="7.4" text-anchor="middle" fill="#111" stroke="#111">ST</text>
<line x1="442.10" y1="738.70" x2="442.10" y2="743.00" stroke="#000" stroke-width="1.0"/>
<text x="442.10" y="755.00" font-size="7.4" text-anchor="middle" fill="#111" stroke="#111">SB</text>
<line x1="500.40" y1="733.00" x2="678.60" y2="733.00" stroke="#adadad" stroke-width="1.0"/>
<line x1="500.40" y1="710.54" x2="678.60" y2="710.54" stroke="#adadad" stroke-width="1.0"/>
<line x1="500.40" y1="688.08" x2="678.60" y2="688.08" stroke="#adadad" stroke-width="1.0"/>
<line x1="500.40" y1="665.62" x2="678.60" y2="665.62" stroke="#adadad" stroke-width="1.0"/>
<line x1="500.40" y1="643.16" x2="678.60" y2="643.16" stroke="#adadad" stroke-width="1.0"/>
<line x1="500.40" y1="620.70" x2="678.60" y2="620.70" stroke="#adadad" stroke-width="1.0"/>
<text transform="translate(473.50,676.60) rotate(-90)" font-size="7.6" text-anchor="middle" fill="#111">Values</text>
<text x="589.50" y="607.60" font-size="7.62" text-anchor="middle" fill="#111" stroke="#111">Local Softmax(z)</text>
<path d="M508.60,620.70 L549.05,733.00 L589.50,621.82 L629.95,621.82 L670.40,733.00" fill="none" stroke="#0e8c8c" stroke-width="2.0" stroke-dasharray="6.3 3.4" stroke-linejoin="round"/>
<path d="M508.60,617.20 L512.10,620.70 L508.60,624.20 L505.10,620.70 Z" fill="#8b0000" stroke="none" stroke-width="1"/>
<path d="M549.05,729.50 L552.55,733.00 L549.05,736.50 L545.55,733.00 Z" fill="#000" stroke="none" stroke-width="1"/>
<path d="M589.50,617.20 L593.00,620.70 L589.50,624.20 L586.00,620.70 Z" fill="#8b0000" stroke="none" stroke-width="1"/>
<path d="M629.95,617.20 L633.45,620.70 L629.95,624.20 L626.45,620.70 Z" fill="#8b0000" stroke="none" stroke-width="1"/>
<path d="M670.40,729.50 L673.90,733.00 L670.40,736.50 L666.90,733.00 Z" fill="#000" stroke="none" stroke-width="1"/>
<line x1="589.50" y1="643.40" x2="589.50" y2="630.84" stroke="#8b0000" stroke-width="1.0"/>
<path d="M589.50,626.60 L587.75,631.90 L589.50,631.90 L591.25,631.90 Z" fill="#8b0000" stroke="none" stroke-width="1"/>
<line x1="549.05" y1="710.70" x2="549.05" y2="726.76" stroke="#000" stroke-width="1.0"/>
<path d="M549.05,731.00 L547.30,725.70 L549.05,725.70 L550.80,725.70 Z" fill="#000" stroke="none" stroke-width="1"/>
<text x="582.70" y="651.15" font-size="7.4" fill="#111">D<tspan font-size="5.0" dy="1.8" letter-spacing="0.1">SA</tspan><tspan font-size="5.0" dx="-6.09" dy="-5.4">+</tspan></text>
<text x="542.50" y="704.15" font-size="7.4" fill="#111">D<tspan font-size="5.0" dy="1.8" letter-spacing="0.1">SA</tspan><tspan font-size="5.0" dx="-6.09" dy="-5.4">−</tspan></text>
<rect x="500.40" y="614.50" width="178.20" height="124.20" fill="none" stroke="#000" stroke-width="1.0"/>
<line x1="496.10" y1="733.00" x2="500.40" y2="733.00" stroke="#000" stroke-width="1.0"/>
<text x="491.40" y="735.50" font-size="7.4" text-anchor="end" fill="#111" stroke="#111">0.0</text>
<line x1="496.10" y1="710.54" x2="500.40" y2="710.54" stroke="#000" stroke-width="1.0"/>
<text x="491.40" y="713.04" font-size="7.4" text-anchor="end" fill="#111" stroke="#111">0.2</text>
<line x1="496.10" y1="688.08" x2="500.40" y2="688.08" stroke="#000" stroke-width="1.0"/>
<text x="491.40" y="690.58" font-size="7.4" text-anchor="end" fill="#111" stroke="#111">0.4</text>
<line x1="496.10" y1="665.62" x2="500.40" y2="665.62" stroke="#000" stroke-width="1.0"/>
<text x="491.40" y="668.12" font-size="7.4" text-anchor="end" fill="#111" stroke="#111">0.6</text>
<line x1="496.10" y1="643.16" x2="500.40" y2="643.16" stroke="#000" stroke-width="1.0"/>
<text x="491.40" y="645.66" font-size="7.4" text-anchor="end" fill="#111" stroke="#111">0.8</text>
<line x1="496.10" y1="620.70" x2="500.40" y2="620.70" stroke="#000" stroke-width="1.0"/>
<text x="491.40" y="623.20" font-size="7.4" text-anchor="end" fill="#111" stroke="#111">1.0</text>
<line x1="508.60" y1="738.70" x2="508.60" y2="743.00" stroke="#000" stroke-width="1.0"/>
<text x="508.60" y="755.00" font-size="7.4" text-anchor="middle" fill="#111" stroke="#111">SR&amp;A</text>
<line x1="549.05" y1="738.70" x2="549.05" y2="743.00" stroke="#000" stroke-width="1.0"/>
<text x="549.05" y="755.00" font-size="7.4" text-anchor="middle" fill="#111" stroke="#111">SR</text>
<line x1="589.50" y1="738.70" x2="589.50" y2="743.00" stroke="#000" stroke-width="1.0"/>
<text x="589.50" y="755.00" font-size="7.4" text-anchor="middle" fill="#111" stroke="#111">SA</text>
<line x1="629.95" y1="738.70" x2="629.95" y2="743.00" stroke="#000" stroke-width="1.0"/>
<text x="629.95" y="755.00" font-size="7.4" text-anchor="middle" fill="#111" stroke="#111">ST</text>
<line x1="670.40" y1="738.70" x2="670.40" y2="743.00" stroke="#000" stroke-width="1.0"/>
<text x="670.40" y="755.00" font-size="7.4" text-anchor="middle" fill="#111" stroke="#111">SB</text>
<text x="-1.00" y="787.60" font-size="10.5" text-anchor="start" fill="#000" stroke="#000" stroke-width="0">g</text>
<defs>
<linearGradient id="g1" x1="0" x2="1" y1="0" y2="0"><stop offset="0" stop-color="#9c4018"/><stop offset="1" stop-color="#a44a24"/></linearGradient>
<pattern id="stripes" patternUnits="userSpaceOnUse" x="0.3" y="0" width="0.92" height="10"><rect x="0" y="0" width="0.22" height="10" fill="#fff" fill-opacity="0.55"/></pattern>
<linearGradient id="g2" x1="0" x2="1" y1="0" y2="0"><stop offset="0" stop-color="#b2461c"/><stop offset="0.5" stop-color="#c24e1c"/><stop offset="1" stop-color="#d65614"/></linearGradient>
<linearGradient id="g3" x1="0" x2="1" y1="0" y2="0"><stop offset="0" stop-color="#e86a24"/><stop offset="0.3" stop-color="#f38a40"/><stop offset="0.55" stop-color="#fbae78"/><stop offset="0.8" stop-color="#fdd5b6"/><stop offset="1" stop-color="#fff0e4"/></linearGradient>
</defs>
<defs><linearGradient id="gg1" gradientUnits="userSpaceOnUse" x1="82.45" x2="101.95" y1="0" y2="0"><stop offset="0" stop-color="#82300e"/><stop offset="1" stop-color="#963c18"/></linearGradient></defs>
<path d="M82.45,917.2 L82.45,798.50 L82.90,798.50 L84.20,816.30 L85.50,821.50 L87.50,823.50 L89.50,829.40 L92.10,836.60 L93.40,846.50 L95.40,856.00 L98.50,870.70 L99.50,880.90 L100.50,897.20 L101.50,909.50 L101.95,909.50 L101.95,917.2 Z" fill="url(#gg1)" stroke="none" stroke-width="1"/>
<rect x="83.45" y="806.63" width="0.55" height="110.57" fill="#fff" fill-opacity="0.35"/>
<rect x="86.21" y="822.81" width="0.55" height="94.39" fill="#fff" fill-opacity="0.35"/>
<rect x="88.05" y="825.72" width="0.55" height="91.48" fill="#fff" fill-opacity="0.25"/>
<rect x="89.89" y="831.08" width="0.55" height="86.12" fill="#fff" fill-opacity="0.35"/>
<rect x="91.73" y="836.18" width="0.55" height="81.02" fill="#fff" fill-opacity="0.45"/>
<rect x="94.49" y="852.28" width="0.55" height="64.92" fill="#fff" fill-opacity="0.25"/>
<rect x="96.33" y="861.01" width="0.55" height="56.19" fill="#fff" fill-opacity="0.35"/>
<rect x="100.01" y="889.81" width="0.55" height="27.39" fill="#fff" fill-opacity="0.25"/>
<path d="M82.90,798.50 L84.20,816.30 L85.50,821.50 L87.50,823.50 L89.50,829.40 L92.10,836.60 L93.40,846.50 L95.40,856.00 L98.50,870.70 L99.50,880.90 L100.50,897.20 L101.50,909.50" fill="none" stroke="#111" stroke-width="0.9" stroke-linejoin="round"/>
<defs><linearGradient id="gg2" gradientUnits="userSpaceOnUse" x1="106.45" x2="149.45" y1="0" y2="0"><stop offset="0" stop-color="#a23e12"/><stop offset="0.5" stop-color="#c04812"/><stop offset="1" stop-color="#da500e"/></linearGradient></defs>
<path d="M106.45,917.2 L106.45,803.20 L106.90,803.20 L107.90,809.70 L109.80,820.20 L111.80,826.80 L113.10,833.40 L115.70,834.70 L119.00,837.30 L121.00,842.60 L123.00,849.80 L126.20,853.10 L128.90,855.70 L130.20,859.40 L133.20,861.50 L136.30,866.60 L140.40,870.70 L143.40,874.70 L146.50,882.90 L148.50,891.10 L149.00,896.20 L149.45,896.20 L149.45,917.2 Z" fill="url(#gg2)" stroke="none" stroke-width="1"/>
<rect x="107.45" y="807.38" width="0.55" height="109.83" fill="#fff" fill-opacity="0.25"/>
<rect x="111.13" y="825.19" width="0.55" height="92.01" fill="#fff" fill-opacity="0.25"/>
<rect x="112.97" y="833.34" width="0.55" height="83.86" fill="#fff" fill-opacity="0.25"/>
<rect x="114.81" y="834.86" width="0.55" height="82.35" fill="#fff" fill-opacity="0.45"/>
<rect x="118.49" y="837.50" width="0.55" height="79.70" fill="#fff" fill-opacity="0.25"/>
<rect x="121.25" y="844.10" width="0.55" height="73.10" fill="#fff" fill-opacity="0.25"/>
<rect x="124.01" y="851.44" width="0.55" height="65.76" fill="#fff" fill-opacity="0.35"/>
<rect x="127.69" y="855.13" width="0.55" height="62.07" fill="#fff" fill-opacity="0.25"/>
<rect x="129.53" y="858.09" width="0.55" height="59.11" fill="#fff" fill-opacity="0.45"/>
<rect x="132.29" y="861.46" width="0.55" height="55.74" fill="#fff" fill-opacity="0.45"/>
<rect x="135.05" y="865.14" width="0.55" height="52.06" fill="#fff" fill-opacity="0.25"/>
<rect x="137.81" y="868.71" width="0.55" height="48.49" fill="#fff" fill-opacity="0.35"/>
<rect x="139.65" y="870.55" width="0.55" height="46.65" fill="#fff" fill-opacity="0.45"/>
<rect x="141.49" y="872.75" width="0.55" height="44.45" fill="#fff" fill-opacity="0.45"/>
<rect x="143.33" y="875.21" width="0.55" height="41.99" fill="#fff" fill-opacity="0.45"/>
<rect x="146.09" y="882.42" width="0.55" height="34.78" fill="#fff" fill-opacity="0.35"/>
<path d="M106.90,803.20 L107.90,809.70 L109.80,820.20 L111.80,826.80 L113.10,833.40 L115.70,834.70 L119.00,837.30 L121.00,842.60 L123.00,849.80 L126.20,853.10 L128.90,855.70 L130.20,859.40 L133.20,861.50 L136.30,866.60 L140.40,870.70 L143.40,874.70 L146.50,882.90 L148.50,891.10 L149.00,896.20" fill="none" stroke="#111" stroke-width="0.9" stroke-linejoin="round"/>
<defs><linearGradient id="gg3" gradientUnits="userSpaceOnUse" x1="152.85000000000002" x2="325.84999999999997" y1="0" y2="0"><stop offset="0" stop-color="#e45f0e"/><stop offset="0.25" stop-color="#f07a28"/><stop offset="0.5" stop-color="#f89a58"/><stop offset="0.75" stop-color="#fcc69c"/><stop offset="1" stop-color="#feeedf"/></linearGradient></defs>
<path d="M152.85,917.2 L152.85,818.80 L153.30,818.80 L157.50,820.90 L161.90,826.10 L167.70,831.10 L172.10,835.50 L178.00,839.90 L182.30,843.60 L191.10,849.20 L198.40,851.50 L210.10,858.80 L218.80,862.30 L227.60,866.10 L240.70,869.00 L248.00,872.00 L256.80,874.00 L265.50,876.40 L274.30,881.60 L288.90,886.60 L291.80,890.40 L299.10,892.40 L307.90,898.20 L315.20,902.60 L325.40,912.00 L325.85,912.00 L325.85,917.2 Z" fill="url(#gg3)" stroke="none" stroke-width="1"/>
<rect x="153.85" y="819.67" width="0.55" height="97.53" fill="#fff" fill-opacity="0.35"/>
<rect x="157.53" y="821.54" width="0.55" height="95.66" fill="#fff" fill-opacity="0.45"/>
<rect x="161.21" y="825.88" width="0.55" height="91.32" fill="#fff" fill-opacity="0.35"/>
<rect x="163.97" y="828.48" width="0.55" height="88.72" fill="#fff" fill-opacity="0.25"/>
<rect x="166.73" y="830.86" width="0.55" height="86.34" fill="#fff" fill-opacity="0.45"/>
<rect x="169.49" y="833.49" width="0.55" height="83.71" fill="#fff" fill-opacity="0.25"/>
<rect x="172.25" y="836.21" width="0.55" height="80.99" fill="#fff" fill-opacity="0.45"/>
<rect x="175.93" y="838.96" width="0.55" height="78.24" fill="#fff" fill-opacity="0.35"/>
<rect x="179.61" y="841.89" width="0.55" height="75.31" fill="#fff" fill-opacity="0.35"/>
<rect x="181.45" y="843.47" width="0.55" height="73.73" fill="#fff" fill-opacity="0.25"/>
<rect x="185.13" y="846.00" width="0.55" height="71.20" fill="#fff" fill-opacity="0.25"/>
<rect x="187.89" y="847.76" width="0.55" height="69.44" fill="#fff" fill-opacity="0.25"/>
<rect x="191.57" y="849.95" width="0.55" height="67.25" fill="#fff" fill-opacity="0.35"/>
<rect x="193.41" y="850.53" width="0.55" height="66.67" fill="#fff" fill-opacity="0.45"/>
<rect x="195.25" y="851.11" width="0.55" height="66.09" fill="#fff" fill-opacity="0.45"/>
<rect x="198.01" y="851.98" width="0.55" height="65.22" fill="#fff" fill-opacity="0.35"/>
<rect x="200.77" y="853.58" width="0.55" height="63.62" fill="#fff" fill-opacity="0.45"/>
<rect x="204.45" y="855.87" width="0.55" height="61.33" fill="#fff" fill-opacity="0.45"/>
<rect x="208.13" y="858.17" width="0.55" height="59.03" fill="#fff" fill-opacity="0.25"/>
<rect x="209.97" y="859.32" width="0.55" height="57.88" fill="#fff" fill-opacity="0.35"/>
<rect x="213.65" y="860.83" width="0.55" height="56.37" fill="#fff" fill-opacity="0.45"/>
<rect x="215.49" y="861.57" width="0.55" height="55.63" fill="#fff" fill-opacity="0.25"/>
<rect x="218.25" y="862.68" width="0.55" height="54.52" fill="#fff" fill-opacity="0.45"/>
<rect x="221.93" y="864.25" width="0.55" height="52.95" fill="#fff" fill-opacity="0.35"/>
<rect x="225.61" y="865.84" width="0.55" height="51.36" fill="#fff" fill-opacity="0.45"/>
<rect x="228.37" y="866.87" width="0.55" height="50.33" fill="#fff" fill-opacity="0.25"/>
<rect x="232.05" y="867.69" width="0.55" height="49.51" fill="#fff" fill-opacity="0.35"/>
<rect x="234.81" y="868.30" width="0.55" height="48.90" fill="#fff" fill-opacity="0.45"/>
<rect x="236.65" y="868.70" width="0.55" height="48.50" fill="#fff" fill-opacity="0.35"/>
<rect x="238.49" y="869.11" width="0.55" height="48.09" fill="#fff" fill-opacity="0.25"/>
<rect x="241.25" y="869.83" width="0.55" height="47.37" fill="#fff" fill-opacity="0.25"/>
<rect x="244.01" y="870.96" width="0.55" height="46.24" fill="#fff" fill-opacity="0.35"/>
<rect x="247.69" y="872.47" width="0.55" height="44.73" fill="#fff" fill-opacity="0.35"/>
<rect x="249.53" y="872.95" width="0.55" height="44.25" fill="#fff" fill-opacity="0.25"/>
<rect x="253.21" y="873.78" width="0.55" height="43.42" fill="#fff" fill-opacity="0.35"/>
<rect x="255.97" y="874.41" width="0.55" height="42.79" fill="#fff" fill-opacity="0.25"/>
<rect x="259.65" y="875.39" width="0.55" height="41.81" fill="#fff" fill-opacity="0.45"/>
<rect x="262.41" y="876.15" width="0.55" height="41.05" fill="#fff" fill-opacity="0.45"/>
<rect x="266.09" y="877.35" width="0.55" height="39.85" fill="#fff" fill-opacity="0.35"/>
<rect x="269.77" y="879.52" width="0.55" height="37.68" fill="#fff" fill-opacity="0.25"/>
<rect x="272.53" y="881.15" width="0.55" height="36.05" fill="#fff" fill-opacity="0.25"/>
<rect x="275.29" y="882.54" width="0.55" height="34.66" fill="#fff" fill-opacity="0.25"/>
<rect x="278.05" y="883.48" width="0.55" height="33.72" fill="#fff" fill-opacity="0.45"/>
<rect x="280.81" y="884.43" width="0.55" height="32.77" fill="#fff" fill-opacity="0.25"/>
<rect x="284.49" y="885.69" width="0.55" height="31.51" fill="#fff" fill-opacity="0.45"/>
<rect x="287.25" y="886.63" width="0.55" height="30.57" fill="#fff" fill-opacity="0.35"/>
<rect x="290.01" y="888.65" width="0.55" height="28.55" fill="#fff" fill-opacity="0.25"/>
<rect x="292.77" y="891.27" width="0.55" height="25.93" fill="#fff" fill-opacity="0.35"/>
<rect x="295.53" y="892.02" width="0.55" height="25.18" fill="#fff" fill-opacity="0.45"/>
<rect x="298.29" y="892.78" width="0.55" height="24.42" fill="#fff" fill-opacity="0.25"/>
<rect x="300.13" y="893.68" width="0.55" height="23.52" fill="#fff" fill-opacity="0.35"/>
<rect x="303.81" y="896.10" width="0.55" height="21.10" fill="#fff" fill-opacity="0.35"/>
<rect x="307.49" y="898.53" width="0.55" height="18.67" fill="#fff" fill-opacity="0.35"/>
<rect x="309.33" y="899.66" width="0.55" height="17.54" fill="#fff" fill-opacity="0.35"/>
<rect x="313.01" y="901.88" width="0.55" height="15.32" fill="#fff" fill-opacity="0.25"/>
<rect x="315.77" y="903.73" width="0.55" height="13.47" fill="#fff" fill-opacity="0.25"/>
<rect x="318.53" y="906.27" width="0.55" height="10.93" fill="#fff" fill-opacity="0.35"/>
<rect x="321.29" y="908.81" width="0.55" height="8.39" fill="#fff" fill-opacity="0.25"/>
<rect x="324.05" y="911.36" width="0.55" height="5.84" fill="#fff" fill-opacity="0.45"/>
<path d="M153.30,818.80 L157.50,820.90 L161.90,826.10 L167.70,831.10 L172.10,835.50 L178.00,839.90 L182.30,843.60 L191.10,849.20 L198.40,851.50 L210.10,858.80 L218.80,862.30 L227.60,866.10 L240.70,869.00 L248.00,872.00 L256.80,874.00 L265.50,876.40 L274.30,881.60 L288.90,886.60 L291.80,890.40 L299.10,892.40 L307.90,898.20 L315.20,902.60 L325.40,912.00" fill="none" stroke="#111" stroke-width="0.9" stroke-linejoin="round"/>
<rect x="70.60" y="793.40" width="267.90" height="123.80" fill="none" stroke="#000" stroke-width="1.0"/>
<line x1="66.30" y1="902.70" x2="70.60" y2="902.70" stroke="#000" stroke-width="1.0"/>
<text x="61.40" y="905.30" font-size="7.4" text-anchor="end" fill="#111" letter-spacing="0.5">10<tspan font-size="5.3" dy="-3.6" letter-spacing="0">2</tspan></text>
<line x1="66.30" y1="870.30" x2="70.60" y2="870.30" stroke="#000" stroke-width="1.0"/>
<text x="61.40" y="872.90" font-size="7.4" text-anchor="end" fill="#111" letter-spacing="0.5">10<tspan font-size="5.3" dy="-3.6" letter-spacing="0">3</tspan></text>
<line x1="66.30" y1="837.90" x2="70.60" y2="837.90" stroke="#000" stroke-width="1.0"/>
<text x="61.40" y="840.50" font-size="7.4" text-anchor="end" fill="#111" letter-spacing="0.5">10<tspan font-size="5.3" dy="-3.6" letter-spacing="0">4</tspan></text>
<line x1="66.30" y1="805.50" x2="70.60" y2="805.50" stroke="#000" stroke-width="1.0"/>
<text x="61.40" y="808.10" font-size="7.4" text-anchor="end" fill="#111" letter-spacing="0.5">10<tspan font-size="5.3" dy="-3.6" letter-spacing="0">5</tspan></text>
<line x1="68.20" y1="915.59" x2="70.60" y2="915.59" stroke="#000" stroke-width="0.7"/>
<line x1="68.20" y1="912.45" x2="70.60" y2="912.45" stroke="#000" stroke-width="0.7"/>
<line x1="68.20" y1="909.89" x2="70.60" y2="909.89" stroke="#000" stroke-width="0.7"/>
<line x1="68.20" y1="907.72" x2="70.60" y2="907.72" stroke="#000" stroke-width="0.7"/>
<line x1="68.20" y1="905.84" x2="70.60" y2="905.84" stroke="#000" stroke-width="0.7"/>
<line x1="68.20" y1="904.18" x2="70.60" y2="904.18" stroke="#000" stroke-width="0.7"/>
<line x1="68.20" y1="892.95" x2="70.60" y2="892.95" stroke="#000" stroke-width="0.7"/>
<line x1="68.20" y1="887.24" x2="70.60" y2="887.24" stroke="#000" stroke-width="0.7"/>
<line x1="68.20" y1="883.19" x2="70.60" y2="883.19" stroke="#000" stroke-width="0.7"/>
<line x1="68.20" y1="880.05" x2="70.60" y2="880.05" stroke="#000" stroke-width="0.7"/>
<line x1="68.20" y1="877.49" x2="70.60" y2="877.49" stroke="#000" stroke-width="0.7"/>
<line x1="68.20" y1="875.32" x2="70.60" y2="875.32" stroke="#000" stroke-width="0.7"/>
<line x1="68.20" y1="873.44" x2="70.60" y2="873.44" stroke="#000" stroke-width="0.7"/>
<line x1="68.20" y1="871.78" x2="70.60" y2="871.78" stroke="#000" stroke-width="0.7"/>
<line x1="68.20" y1="860.55" x2="70.60" y2="860.55" stroke="#000" stroke-width="0.7"/>
<line x1="68.20" y1="854.84" x2="70.60" y2="854.84" stroke="#000" stroke-width="0.7"/>
<line x1="68.20" y1="850.79" x2="70.60" y2="850.79" stroke="#000" stroke-width="0.7"/>
<line x1="68.20" y1="847.65" x2="70.60" y2="847.65" stroke="#000" stroke-width="0.7"/>
<line x1="68.20" y1="845.09" x2="70.60" y2="845.09" stroke="#000" stroke-width="0.7"/>
<line x1="68.20" y1="842.92" x2="70.60" y2="842.92" stroke="#000" stroke-width="0.7"/>
<line x1="68.20" y1="841.04" x2="70.60" y2="841.04" stroke="#000" stroke-width="0.7"/>
<line x1="68.20" y1="839.38" x2="70.60" y2="839.38" stroke="#000" stroke-width="0.7"/>
<line x1="68.20" y1="828.15" x2="70.60" y2="828.15" stroke="#000" stroke-width="0.7"/>
<line x1="68.20" y1="822.44" x2="70.60" y2="822.44" stroke="#000" stroke-width="0.7"/>
<line x1="68.20" y1="818.39" x2="70.60" y2="818.39" stroke="#000" stroke-width="0.7"/>
<line x1="68.20" y1="815.25" x2="70.60" y2="815.25" stroke="#000" stroke-width="0.7"/>
<line x1="68.20" y1="812.69" x2="70.60" y2="812.69" stroke="#000" stroke-width="0.7"/>
<line x1="68.20" y1="810.52" x2="70.60" y2="810.52" stroke="#000" stroke-width="0.7"/>
<line x1="68.20" y1="808.64" x2="70.60" y2="808.64" stroke="#000" stroke-width="0.7"/>
<line x1="68.20" y1="806.98" x2="70.60" y2="806.98" stroke="#000" stroke-width="0.7"/>
<line x1="68.20" y1="795.75" x2="70.60" y2="795.75" stroke="#000" stroke-width="0.7"/>
<text transform="translate(42.0,855.2) rotate(-90)" font-size="7.6" text-anchor="middle" fill="#111">Number</text>
<line x1="92.30" y1="917.20" x2="92.30" y2="921.50" stroke="#000" stroke-width="1.0"/>
<text x="90.10" y="932.30" font-size="7.5" text-anchor="middle" fill="#111" stroke="#111" letter-spacing="0.2">Level1</text>
<text x="90.10" y="941.10" font-size="7.5" text-anchor="middle" fill="#111" stroke="#111" letter-spacing="0.2">21 terms</text>
<line x1="127.70" y1="917.20" x2="127.70" y2="921.50" stroke="#000" stroke-width="1.0"/>
<text x="125.50" y="932.30" font-size="7.5" text-anchor="middle" fill="#111" stroke="#111" letter-spacing="0.2">Level2</text>
<text x="125.50" y="941.10" font-size="7.5" text-anchor="middle" fill="#111" stroke="#111" letter-spacing="0.2">46 terms</text>
<line x1="239.90" y1="917.20" x2="239.90" y2="921.50" stroke="#000" stroke-width="1.0"/>
<text x="237.70" y="932.30" font-size="7.5" text-anchor="middle" fill="#111" stroke="#111" letter-spacing="0.2">Level3</text>
<text x="237.70" y="941.10" font-size="7.5" text-anchor="middle" fill="#111" stroke="#111" letter-spacing="0.2">187 terms</text>
<text x="204.50" y="952.90" font-size="7.6" text-anchor="middle" fill="#111" stroke="#111">Sorted three level terms</text>
<text x="204.20" y="786.40" font-size="7.62" text-anchor="middle" fill="#111" stroke="#111">Long-tailed hierarchical multiple labels distribution</text>
<text x="353.30" y="787.00" font-size="10.5" text-anchor="start" fill="#000" stroke="#000" stroke-width="0">h</text>
<path d="M411.60,917.3 L411.60,914.64 L414.10,914.64 L414.10,916.90 L416.60,916.90 L416.60,916.50 L419.10,916.50 L419.10,916.40 L421.60,916.40 L421.60,916.00 L424.10,916.00 L424.10,915.00 L426.60,915.00 L426.60,915.40 L429.10,915.40 L429.10,915.00 L431.60,915.00 L431.60,914.60 L434.10,914.60 L434.10,913.50 L436.60,913.50 L436.60,911.60 L439.10,911.60 L439.10,909.30 L441.60,909.30 L441.60,904.60 L444.10,904.60 L444.10,902.90 L446.60,902.90 L446.60,901.70 L449.10,901.70 L449.10,902.70 L451.60,902.70 L451.60,900.80 L454.10,900.80 L454.10,900.20 L456.60,900.20 L456.60,899.50 L459.10,899.50 L459.10,899.30 L461.60,899.30 L461.60,896.00 L464.10,896.00 L464.10,897.90 L466.60,897.90 L466.60,894.10 L469.10,894.10 L469.10,890.70 L471.60,890.70 L471.60,867.00 L474.10,867.00 L474.10,885.00 L476.60,885.00 L476.60,893.20 L479.10,893.20 L479.10,892.60 L481.60,892.60 L481.60,891.30 L484.10,891.30 L484.10,889.80 L486.60,889.80 L486.60,887.10 L489.10,887.10 L489.10,890.90 L491.60,890.90 L491.60,889.40 L494.10,889.40 L494.10,889.00 L496.60,889.00 L496.60,889.40 L499.10,889.40 L499.10,882.80 L501.60,882.80 L501.60,873.60 L504.10,873.60 L504.10,876.10 L506.60,876.10 L506.60,872.90 L509.10,872.90 L509.10,838.70 L511.60,838.70 L511.60,842.50 L514.10,842.50 L514.10,857.10 L516.60,857.10 L516.60,862.30 L519.10,862.30 L519.10,871.00 L521.60,871.00 L521.60,868.00 L524.10,868.00 L524.10,862.80 L526.60,862.80 L526.60,854.70 L529.10,854.70 L529.10,854.70 L531.60,854.70 L531.60,799.60 L534.10,799.60 L534.10,866.60 L536.60,866.60 L536.60,872.30 L539.10,872.30 L539.10,872.30 L541.60,872.30 L541.60,870.80 L544.10,870.80 L544.10,858.50 L546.60,858.50 L546.60,858.50 L549.10,858.50 L549.10,856.20 L551.60,856.20 L551.60,858.50 L554.10,858.50 L554.10,869.10 L556.60,869.10 L556.60,860.90 L559.10,860.90 L559.10,873.60 L561.60,873.60 L561.60,871.40 L564.10,871.40 L564.10,874.80 L566.60,874.80 L566.60,884.70 L569.10,884.70 L569.10,879.90 L571.60,879.90 L571.60,883.70 L574.10,883.70 L574.10,894.10 L576.60,894.10 L576.60,893.20 L579.10,893.20 L579.10,893.80 L581.60,893.80 L581.60,895.10 L584.10,895.10 L584.10,892.60 L586.60,892.60 L586.60,895.70 L589.10,895.70 L589.10,897.00 L591.60,897.00 L591.60,849.70 L594.10,849.70 L594.10,905.50 L596.60,905.50 L596.60,908.90 L599.10,908.90 L599.10,910.30 L601.60,910.30 L601.60,911.20 L604.10,911.20 L604.10,910.30 L606.60,910.30 L606.60,914.60 L609.10,914.60 L609.10,913.10 L611.60,913.10 L611.60,916.50 L614.10,916.50 L614.10,916.20 L616.60,916.20 L616.60,914.60 L619.10,914.60 L619.10,916.90 L621.60,916.90 L621.60,916.95 L624.10,916.95 L624.10,917.00 L626.60,917.00 L626.60,917.00 L629.10,917.00 L629.10,917.05 L631.60,917.05 L631.60,917.10 L634.10,917.10 L634.10,917.10 L636.60,917.10 L636.60,917.15 L639.10,917.15 L639.10,917.15 L641.60,917.15 L641.60,917.20 L644.10,917.20 L644.10,917.20 L646.60,917.20 L646.60,917.20 L649.10,917.20 L649.10,917.25 L651.60,917.25 L651.60,917.25 L654.10,917.25 L654.10,917.3 Z" fill="#d9bdd9" stroke="none" stroke-width="1"/>
<path d="M411.60,917.3 L411.60,914.64 L414.10,914.64 L414.10,916.90 L416.60,916.90 L416.60,916.50 L419.10,916.50 L419.10,916.40 L421.60,916.40 L421.60,916.00 L424.10,916.00 L424.10,915.00 L426.60,915.00 L426.60,915.40 L429.10,915.40 L429.10,915.00 L431.60,915.00 L431.60,914.60 L434.10,914.60 L434.10,913.50 L436.60,913.50 L436.60,911.60 L439.10,911.60 L439.10,909.30 L441.60,909.30 L441.60,904.60 L444.10,904.60 L444.10,902.90 L446.60,902.90 L446.60,901.70 L449.10,901.70 L449.10,902.70 L451.60,902.70 L451.60,900.80 L454.10,900.80 L454.10,900.20 L456.60,900.20 L456.60,899.50 L459.10,899.50 L459.10,899.30 L461.60,899.30 L461.60,896.00 L464.10,896.00 L464.10,897.90 L466.60,897.90 L466.60,894.10 L469.10,894.10 L469.10,890.70 L471.60,890.70 L471.60,867.00 L474.10,867.00 L474.10,885.00 L476.60,885.00 L476.60,893.20 L479.10,893.20 L479.10,892.60 L481.60,892.60 L481.60,891.30 L484.10,891.30 L484.10,889.80 L486.60,889.80 L486.60,887.10 L489.10,887.10 L489.10,890.90 L491.60,890.90 L491.60,889.40 L494.10,889.40 L494.10,889.00 L496.60,889.00 L496.60,889.40 L499.10,889.40 L499.10,882.80 L501.60,882.80 L501.60,873.60 L504.10,873.60 L504.10,876.10 L506.60,876.10 L506.60,872.90 L509.10,872.90 L509.10,838.70 L511.60,838.70 L511.60,842.50 L514.10,842.50 L514.10,857.10 L516.60,857.10 L516.60,862.30 L519.10,862.30 L519.10,871.00 L521.60,871.00 L521.60,868.00 L524.10,868.00 L524.10,862.80 L526.60,862.80 L526.60,854.70 L529.10,854.70 L529.10,854.70 L531.60,854.70 L531.60,799.60 L534.10,799.60 L534.10,866.60 L536.60,866.60 L536.60,872.30 L539.10,872.30 L539.10,872.30 L541.60,872.30 L541.60,870.80 L544.10,870.80 L544.10,858.50 L546.60,858.50 L546.60,858.50 L549.10,858.50 L549.10,856.20 L551.60,856.20 L551.60,858.50 L554.10,858.50 L554.10,869.10 L556.60,869.10 L556.60,860.90 L559.10,860.90 L559.10,873.60 L561.60,873.60 L561.60,871.40 L564.10,871.40 L564.10,874.80 L566.60,874.80 L566.60,884.70 L569.10,884.70 L569.10,879.90 L571.60,879.90 L571.60,883.70 L574.10,883.70 L574.10,894.10 L576.60,894.10 L576.60,893.20 L579.10,893.20 L579.10,893.80 L581.60,893.80 L581.60,895.10 L584.10,895.10 L584.10,892.60 L586.60,892.60 L586.60,895.70 L589.10,895.70 L589.10,897.00 L591.60,897.00 L591.60,849.70 L594.10,849.70 L594.10,905.50 L596.60,905.50 L596.60,908.90 L599.10,908.90 L599.10,910.30 L601.60,910.30 L601.60,911.20 L604.10,911.20 L604.10,910.30 L606.60,910.30 L606.60,914.60 L609.10,914.60 L609.10,913.10 L611.60,913.10 L611.60,916.50 L614.10,916.50 L614.10,916.20 L616.60,916.20 L616.60,914.60 L619.10,914.60 L619.10,916.90 L621.60,916.90 L621.60,916.95 L624.10,916.95 L624.10,917.00 L626.60,917.00 L626.60,917.00 L629.10,917.00 L629.10,917.05 L631.60,917.05 L631.60,917.10 L634.10,917.10 L634.10,917.10 L636.60,917.10 L636.60,917.15 L639.10,917.15 L639.10,917.15 L641.60,917.15 L641.60,917.20 L644.10,917.20 L644.10,917.20 L646.60,917.20 L646.60,917.20 L649.10,917.20 L649.10,917.25 L651.60,917.25 L651.60,917.25 L654.10,917.25 L654.10,917.3" fill="none" stroke="#820a86" stroke-width="1.3" stroke-linejoin="miter"/>
<rect x="399.70" y="793.40" width="267.40" height="123.90" fill="none" stroke="#000" stroke-width="1.0"/>
<line x1="395.40" y1="917.40" x2="399.70" y2="917.40" stroke="#000" stroke-width="1.0"/>
<text x="390.70" y="920.00" font-size="7.4" text-anchor="end" fill="#111" stroke="#111" letter-spacing="0.25">0</text>
<line x1="395.40" y1="889.64" x2="399.70" y2="889.64" stroke="#000" stroke-width="1.0"/>
<text x="390.70" y="892.24" font-size="7.4" text-anchor="end" fill="#111" stroke="#111" letter-spacing="0.25">2000</text>
<line x1="395.40" y1="861.88" x2="399.70" y2="861.88" stroke="#000" stroke-width="1.0"/>
<text x="390.70" y="864.48" font-size="7.4" text-anchor="end" fill="#111" stroke="#111" letter-spacing="0.25">4000</text>
<line x1="395.40" y1="834.12" x2="399.70" y2="834.12" stroke="#000" stroke-width="1.0"/>
<text x="390.70" y="836.72" font-size="7.4" text-anchor="end" fill="#111" stroke="#111" letter-spacing="0.25">6000</text>
<line x1="395.40" y1="806.36" x2="399.70" y2="806.36" stroke="#000" stroke-width="1.0"/>
<text x="390.70" y="808.96" font-size="7.4" text-anchor="end" fill="#111" stroke="#111" letter-spacing="0.25">8000</text>
<line x1="443.40" y1="917.30" x2="443.40" y2="921.60" stroke="#000" stroke-width="1.0"/>
<text x="443.40" y="933.30" font-size="7.4" text-anchor="middle" fill="#111" stroke="#111" letter-spacing="0.25">20</text>
<line x1="491.40" y1="917.30" x2="491.40" y2="921.60" stroke="#000" stroke-width="1.0"/>
<text x="491.40" y="933.30" font-size="7.4" text-anchor="middle" fill="#111" stroke="#111" letter-spacing="0.25">40</text>
<line x1="539.40" y1="917.30" x2="539.40" y2="921.60" stroke="#000" stroke-width="1.0"/>
<text x="539.40" y="933.30" font-size="7.4" text-anchor="middle" fill="#111" stroke="#111" letter-spacing="0.25">60</text>
<line x1="587.40" y1="917.30" x2="587.40" y2="921.60" stroke="#000" stroke-width="1.0"/>
<text x="587.40" y="933.30" font-size="7.4" text-anchor="middle" fill="#111" stroke="#111" letter-spacing="0.25">80</text>
<line x1="635.40" y1="917.30" x2="635.40" y2="921.60" stroke="#000" stroke-width="1.0"/>
<text x="635.40" y="933.30" font-size="7.4" text-anchor="middle" fill="#111" stroke="#111" letter-spacing="0.25">100</text>
<text x="533.40" y="945.00" font-size="7.6" text-anchor="middle" fill="#111" stroke="#111">Age</text>
<text x="533.40" y="786.40" font-size="7.62" text-anchor="middle" fill="#111" stroke="#111">Histogram of membership age</text>
<text transform="translate(365.2,855.4) rotate(-90)" font-size="7.6" text-anchor="middle" fill="#111">Numbers</text>
</svg>
</body></html>
